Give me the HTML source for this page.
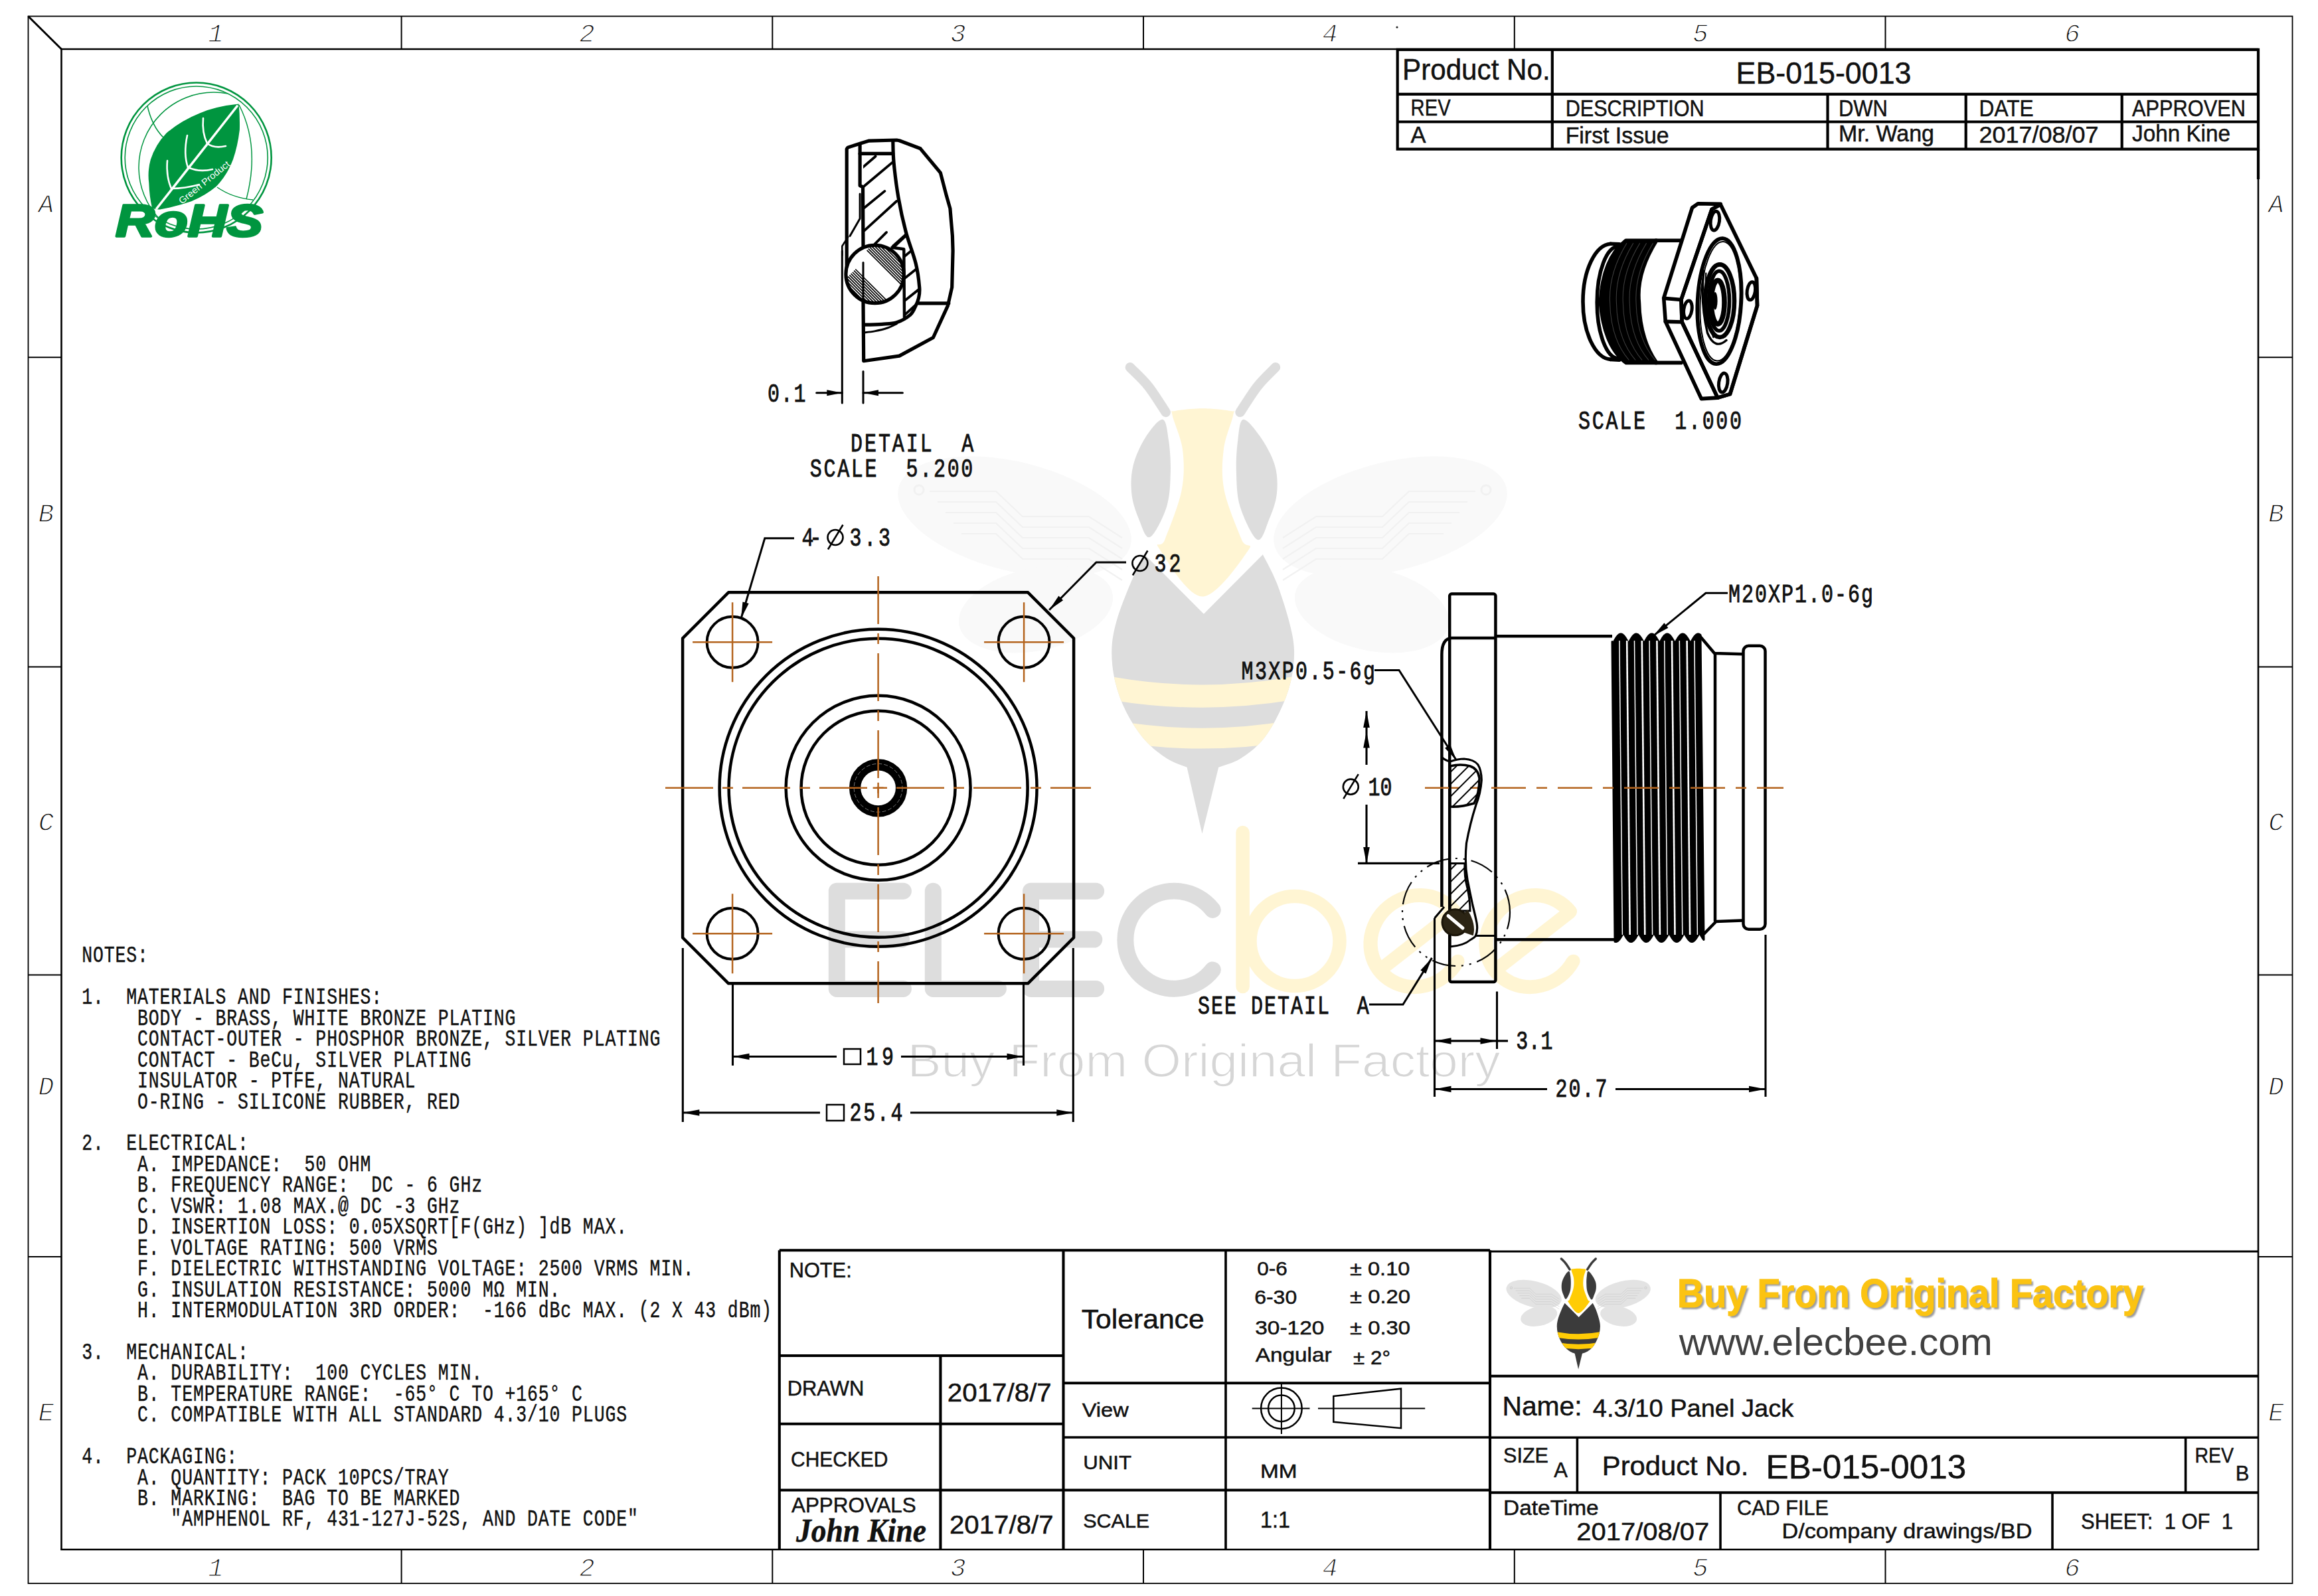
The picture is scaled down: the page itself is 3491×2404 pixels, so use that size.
<!DOCTYPE html>
<html><head><meta charset="utf-8"><title>EB-015-0013 4.3/10 Panel Jack</title>
<style>
html,body{margin:0;padding:0;background:#fff;}
body{width:3491px;height:2404px;overflow:hidden;font-family:"Liberation Sans",sans-serif;}
svg{display:block;}
</style></head><body>
<svg width="3491" height="2404" viewBox="0 0 3491 2404">
<g id="frame">
<rect x="42.5" y="24.5" width="3410.0" height="2360.5" stroke="#000" stroke-width="1.8" fill="none" />
<line x1="92.5" y1="74.0" x2="92.5" y2="2334.0" stroke="#000" stroke-width="2.6" />
<line x1="91.2" y1="74.0" x2="3401.0" y2="74.0" stroke="#000" stroke-width="2.6" />
<line x1="91.2" y1="2334.0" x2="3402.3" y2="2334.0" stroke="#000" stroke-width="2.6" />
<line x1="3401.0" y1="74.0" x2="3401.0" y2="2334.0" stroke="#000" stroke-width="2.6" />
<line x1="42.5" y1="24.5" x2="92.5" y2="74.0" stroke="#000" stroke-width="3.0" />
<line x1="604.6" y1="24.5" x2="604.6" y2="74.0" stroke="#000" stroke-width="2.0" />
<line x1="604.6" y1="2334.0" x2="604.6" y2="2385.0" stroke="#000" stroke-width="2.0" />
<line x1="1163.3" y1="24.5" x2="1163.3" y2="74.0" stroke="#000" stroke-width="2.0" />
<line x1="1163.3" y1="2334.0" x2="1163.3" y2="2385.0" stroke="#000" stroke-width="2.0" />
<line x1="1722.0" y1="24.5" x2="1722.0" y2="74.0" stroke="#000" stroke-width="2.0" />
<line x1="1722.0" y1="2334.0" x2="1722.0" y2="2385.0" stroke="#000" stroke-width="2.0" />
<line x1="2280.8" y1="24.5" x2="2280.8" y2="74.0" stroke="#000" stroke-width="2.0" />
<line x1="2280.8" y1="2334.0" x2="2280.8" y2="2385.0" stroke="#000" stroke-width="2.0" />
<line x1="2839.5" y1="24.5" x2="2839.5" y2="74.0" stroke="#000" stroke-width="2.0" />
<line x1="2839.5" y1="2334.0" x2="2839.5" y2="2385.0" stroke="#000" stroke-width="2.0" />
<line x1="42.5" y1="538.3" x2="92.5" y2="538.3" stroke="#000" stroke-width="2.0" />
<line x1="3401.0" y1="538.3" x2="3452.5" y2="538.3" stroke="#000" stroke-width="2.0" />
<line x1="42.5" y1="1004.5" x2="92.5" y2="1004.5" stroke="#000" stroke-width="2.0" />
<line x1="3401.0" y1="1004.5" x2="3452.5" y2="1004.5" stroke="#000" stroke-width="2.0" />
<line x1="42.5" y1="1468.4" x2="92.5" y2="1468.4" stroke="#000" stroke-width="2.0" />
<line x1="3401.0" y1="1468.4" x2="3452.5" y2="1468.4" stroke="#000" stroke-width="2.0" />
<line x1="42.5" y1="1893.0" x2="92.5" y2="1893.0" stroke="#000" stroke-width="2.0" />
<line x1="3401.0" y1="1893.0" x2="3452.5" y2="1893.0" stroke="#000" stroke-width="2.0" />
<text x="325.0" y="63.0" font-size="39.0" font-family='"Liberation Mono", monospace' font-weight="normal" font-style="italic" text-anchor="middle" fill="#111" stroke="#fff" stroke-width="1.3">1</text>
<text x="325.0" y="2374.0" font-size="39.0" font-family='"Liberation Mono", monospace' font-weight="normal" font-style="italic" text-anchor="middle" fill="#111" stroke="#fff" stroke-width="1.3">1</text>
<text x="884.0" y="63.0" font-size="39.0" font-family='"Liberation Mono", monospace' font-weight="normal" font-style="italic" text-anchor="middle" fill="#111" stroke="#fff" stroke-width="1.3">2</text>
<text x="884.0" y="2374.0" font-size="39.0" font-family='"Liberation Mono", monospace' font-weight="normal" font-style="italic" text-anchor="middle" fill="#111" stroke="#fff" stroke-width="1.3">2</text>
<text x="1443.0" y="63.0" font-size="39.0" font-family='"Liberation Mono", monospace' font-weight="normal" font-style="italic" text-anchor="middle" fill="#111" stroke="#fff" stroke-width="1.3">3</text>
<text x="1443.0" y="2374.0" font-size="39.0" font-family='"Liberation Mono", monospace' font-weight="normal" font-style="italic" text-anchor="middle" fill="#111" stroke="#fff" stroke-width="1.3">3</text>
<text x="2003.0" y="63.0" font-size="39.0" font-family='"Liberation Mono", monospace' font-weight="normal" font-style="italic" text-anchor="middle" fill="#111" stroke="#fff" stroke-width="1.3">4</text>
<text x="2003.0" y="2374.0" font-size="39.0" font-family='"Liberation Mono", monospace' font-weight="normal" font-style="italic" text-anchor="middle" fill="#111" stroke="#fff" stroke-width="1.3">4</text>
<text x="2561.0" y="63.0" font-size="39.0" font-family='"Liberation Mono", monospace' font-weight="normal" font-style="italic" text-anchor="middle" fill="#111" stroke="#fff" stroke-width="1.3">5</text>
<text x="2561.0" y="2374.0" font-size="39.0" font-family='"Liberation Mono", monospace' font-weight="normal" font-style="italic" text-anchor="middle" fill="#111" stroke="#fff" stroke-width="1.3">5</text>
<text x="3121.0" y="63.0" font-size="39.0" font-family='"Liberation Mono", monospace' font-weight="normal" font-style="italic" text-anchor="middle" fill="#111" stroke="#fff" stroke-width="1.3">6</text>
<text x="3121.0" y="2374.0" font-size="39.0" font-family='"Liberation Mono", monospace' font-weight="normal" font-style="italic" text-anchor="middle" fill="#111" stroke="#fff" stroke-width="1.3">6</text>
<text x="69.5" y="320.0" font-size="39.0" font-family='"Liberation Mono", monospace' font-weight="normal" font-style="italic" text-anchor="middle" fill="#111" stroke="#fff" stroke-width="1.3">A</text>
<text x="3428.0" y="320.0" font-size="39.0" font-family='"Liberation Mono", monospace' font-weight="normal" font-style="italic" text-anchor="middle" fill="#111" stroke="#fff" stroke-width="1.3">A</text>
<text x="69.5" y="785.6" font-size="39.0" font-family='"Liberation Mono", monospace' font-weight="normal" font-style="italic" text-anchor="middle" fill="#111" stroke="#fff" stroke-width="1.3">B</text>
<text x="3428.0" y="785.6" font-size="39.0" font-family='"Liberation Mono", monospace' font-weight="normal" font-style="italic" text-anchor="middle" fill="#111" stroke="#fff" stroke-width="1.3">B</text>
<text x="69.5" y="1251.0" font-size="39.0" font-family='"Liberation Mono", monospace' font-weight="normal" font-style="italic" text-anchor="middle" fill="#111" stroke="#fff" stroke-width="1.3">C</text>
<text x="3428.0" y="1251.0" font-size="39.0" font-family='"Liberation Mono", monospace' font-weight="normal" font-style="italic" text-anchor="middle" fill="#111" stroke="#fff" stroke-width="1.3">C</text>
<text x="69.5" y="1648.5" font-size="39.0" font-family='"Liberation Mono", monospace' font-weight="normal" font-style="italic" text-anchor="middle" fill="#111" stroke="#fff" stroke-width="1.3">D</text>
<text x="3428.0" y="1648.5" font-size="39.0" font-family='"Liberation Mono", monospace' font-weight="normal" font-style="italic" text-anchor="middle" fill="#111" stroke="#fff" stroke-width="1.3">D</text>
<text x="69.5" y="2139.5" font-size="39.0" font-family='"Liberation Mono", monospace' font-weight="normal" font-style="italic" text-anchor="middle" fill="#111" stroke="#fff" stroke-width="1.3">E</text>
<text x="3428.0" y="2139.5" font-size="39.0" font-family='"Liberation Mono", monospace' font-weight="normal" font-style="italic" text-anchor="middle" fill="#111" stroke="#fff" stroke-width="1.3">E</text>
</g>
<g id="revtable">
<rect x="2104.7" y="74.8" width="1296.3" height="149.8" stroke="#000" stroke-width="4.2" fill="none" />
<line x1="2104.7" y1="141.9" x2="3401.0" y2="141.9" stroke="#000" stroke-width="4.2" />
<line x1="2104.7" y1="183.5" x2="3401.0" y2="183.5" stroke="#000" stroke-width="4.2" />
<line x1="2337.8" y1="74.8" x2="2337.8" y2="224.6" stroke="#000" stroke-width="4.2" />
<line x1="2752.5" y1="141.9" x2="2752.5" y2="224.6" stroke="#000" stroke-width="4.2" />
<line x1="2960.7" y1="141.9" x2="2960.7" y2="224.6" stroke="#000" stroke-width="4.2" />
<line x1="3195.7" y1="141.9" x2="3195.7" y2="224.6" stroke="#000" stroke-width="4.2" />
<line x1="3401.0" y1="224.6" x2="3401.0" y2="270.0" stroke="#000" stroke-width="4.2" />
<text x="2112.0" y="120.0" font-size="44.0" font-family='"Liberation Sans", sans-serif' font-weight="normal" font-style="normal" text-anchor="start" fill="#111" textLength="222.7" lengthAdjust="spacingAndGlyphs"  stroke="#111" stroke-width="0.5">Product No.</text>
<text x="2614.5" y="126.4" font-size="47.0" font-family='"Liberation Sans", sans-serif' font-weight="normal" font-style="normal" text-anchor="start" fill="#111" textLength="264.0" lengthAdjust="spacingAndGlyphs"  stroke="#111" stroke-width="0.5">EB-015-0013</text>
<text x="2124.6" y="174.0" font-size="34.5" font-family='"Liberation Sans", sans-serif' font-weight="normal" font-style="normal" text-anchor="start" fill="#111" textLength="60.0" lengthAdjust="spacingAndGlyphs"  stroke="#111" stroke-width="0.5">REV</text>
<text x="2357.7" y="175.0" font-size="34.5" font-family='"Liberation Sans", sans-serif' font-weight="normal" font-style="normal" text-anchor="start" fill="#111" textLength="209.0" lengthAdjust="spacingAndGlyphs"  stroke="#111" stroke-width="0.5">DESCRIPTION</text>
<text x="2769.0" y="174.5" font-size="34.5" font-family='"Liberation Sans", sans-serif' font-weight="normal" font-style="normal" text-anchor="start" fill="#111" textLength="74.0" lengthAdjust="spacingAndGlyphs"  stroke="#111" stroke-width="0.5">DWN</text>
<text x="2980.6" y="174.5" font-size="34.5" font-family='"Liberation Sans", sans-serif' font-weight="normal" font-style="normal" text-anchor="start" fill="#111" textLength="82.0" lengthAdjust="spacingAndGlyphs"  stroke="#111" stroke-width="0.5">DATE</text>
<text x="3211.0" y="174.5" font-size="34.5" font-family='"Liberation Sans", sans-serif' font-weight="normal" font-style="normal" text-anchor="start" fill="#111" textLength="171.0" lengthAdjust="spacingAndGlyphs"  stroke="#111" stroke-width="0.5">APPROVEN</text>
<text x="2124.6" y="215.0" font-size="34.5" font-family='"Liberation Sans", sans-serif' font-weight="normal" font-style="normal" text-anchor="start" fill="#111"  stroke="#111" stroke-width="0.5">A</text>
<text x="2357.7" y="216.0" font-size="34.5" font-family='"Liberation Sans", sans-serif' font-weight="normal" font-style="normal" text-anchor="start" fill="#111" textLength="156.0" lengthAdjust="spacingAndGlyphs"  stroke="#111" stroke-width="0.5">First Issue</text>
<text x="2769.0" y="213.4" font-size="34.5" font-family='"Liberation Sans", sans-serif' font-weight="normal" font-style="normal" text-anchor="start" fill="#111" textLength="144.0" lengthAdjust="spacingAndGlyphs"  stroke="#111" stroke-width="0.5">Mr. Wang</text>
<text x="2980.6" y="215.0" font-size="34.5" font-family='"Liberation Sans", sans-serif' font-weight="normal" font-style="normal" text-anchor="start" fill="#111" textLength="180.0" lengthAdjust="spacingAndGlyphs"  stroke="#111" stroke-width="0.5">2017/08/07</text>
<text x="3211.0" y="213.4" font-size="34.5" font-family='"Liberation Sans", sans-serif' font-weight="normal" font-style="normal" text-anchor="start" fill="#111" textLength="148.0" lengthAdjust="spacingAndGlyphs"  stroke="#111" stroke-width="0.5">John Kine</text>
<circle id="tinydot" cx="2104" cy="41" r="1.6" fill="#222"/>
</g>
<g id="notes">
<text transform="translate(123.2,1449.3) scale(0.7600,1)" font-size="34.92" letter-spacing="1.12" font-family='"Liberation Mono", monospace' font-weight="normal" fill="#111" stroke="#111" stroke-width="0.45" xml:space="preserve">NOTES:</text>
<text transform="translate(123.2,1512.2) scale(0.7600,1)" font-size="34.92" letter-spacing="1.12" font-family='"Liberation Mono", monospace' font-weight="normal" fill="#111" stroke="#111" stroke-width="0.45" xml:space="preserve">1.  MATERIALS AND FINISHES:</text>
<text transform="translate(123.2,1543.6) scale(0.7600,1)" font-size="34.92" letter-spacing="1.12" font-family='"Liberation Mono", monospace' font-weight="normal" fill="#111" stroke="#111" stroke-width="0.45" xml:space="preserve">     BODY - BRASS, WHITE BRONZE PLATING</text>
<text transform="translate(123.2,1575.1) scale(0.7600,1)" font-size="34.92" letter-spacing="1.12" font-family='"Liberation Mono", monospace' font-weight="normal" fill="#111" stroke="#111" stroke-width="0.45" xml:space="preserve">     CONTACT-OUTER - PHOSPHOR BRONZE, SILVER PLATING</text>
<text transform="translate(123.2,1606.5) scale(0.7600,1)" font-size="34.92" letter-spacing="1.12" font-family='"Liberation Mono", monospace' font-weight="normal" fill="#111" stroke="#111" stroke-width="0.45" xml:space="preserve">     CONTACT - BeCu, SILVER PLATING</text>
<text transform="translate(123.2,1638.0) scale(0.7600,1)" font-size="34.92" letter-spacing="1.12" font-family='"Liberation Mono", monospace' font-weight="normal" fill="#111" stroke="#111" stroke-width="0.45" xml:space="preserve">     INSULATOR - PTFE, NATURAL</text>
<text transform="translate(123.2,1669.5) scale(0.7600,1)" font-size="34.92" letter-spacing="1.12" font-family='"Liberation Mono", monospace' font-weight="normal" fill="#111" stroke="#111" stroke-width="0.45" xml:space="preserve">     O-RING - SILICONE RUBBER, RED</text>
<text transform="translate(123.2,1732.3) scale(0.7600,1)" font-size="34.92" letter-spacing="1.12" font-family='"Liberation Mono", monospace' font-weight="normal" fill="#111" stroke="#111" stroke-width="0.45" xml:space="preserve">2.  ELECTRICAL:</text>
<text transform="translate(123.2,1763.8) scale(0.7600,1)" font-size="34.92" letter-spacing="1.12" font-family='"Liberation Mono", monospace' font-weight="normal" fill="#111" stroke="#111" stroke-width="0.45" xml:space="preserve">     A. IMPEDANCE:  50 OHM</text>
<text transform="translate(123.2,1795.2) scale(0.7600,1)" font-size="34.92" letter-spacing="1.12" font-family='"Liberation Mono", monospace' font-weight="normal" fill="#111" stroke="#111" stroke-width="0.45" xml:space="preserve">     B. FREQUENCY RANGE:  DC - 6 GHz</text>
<text transform="translate(123.2,1826.7) scale(0.7600,1)" font-size="34.92" letter-spacing="1.12" font-family='"Liberation Mono", monospace' font-weight="normal" fill="#111" stroke="#111" stroke-width="0.45" xml:space="preserve">     C. VSWR: 1.08 MAX.@ DC -3 GHz</text>
<text transform="translate(123.2,1858.1) scale(0.7600,1)" font-size="34.92" letter-spacing="1.12" font-family='"Liberation Mono", monospace' font-weight="normal" fill="#111" stroke="#111" stroke-width="0.45" xml:space="preserve">     D. INSERTION LOSS: 0.05XSQRT[F(GHz) ]dB MAX.</text>
<text transform="translate(123.2,1889.6) scale(0.7600,1)" font-size="34.92" letter-spacing="1.12" font-family='"Liberation Mono", monospace' font-weight="normal" fill="#111" stroke="#111" stroke-width="0.45" xml:space="preserve">     E. VOLTAGE RATING: 500 VRMS</text>
<text transform="translate(123.2,1921.0) scale(0.7600,1)" font-size="34.92" letter-spacing="1.12" font-family='"Liberation Mono", monospace' font-weight="normal" fill="#111" stroke="#111" stroke-width="0.45" xml:space="preserve">     F. DIELECTRIC WITHSTANDING VOLTAGE: 2500 VRMS MIN.</text>
<text transform="translate(123.2,1952.5) scale(0.7600,1)" font-size="34.92" letter-spacing="1.12" font-family='"Liberation Mono", monospace' font-weight="normal" fill="#111" stroke="#111" stroke-width="0.45" xml:space="preserve">     G. INSULATION RESISTANCE: 5000 MΩ MIN.</text>
<text transform="translate(123.2,1983.9) scale(0.7600,1)" font-size="34.92" letter-spacing="1.12" font-family='"Liberation Mono", monospace' font-weight="normal" fill="#111" stroke="#111" stroke-width="0.45" xml:space="preserve">     H. INTERMODULATION 3RD ORDER:  -166 dBc MAX. (2 X 43 dBm)</text>
<text transform="translate(123.2,2046.8) scale(0.7600,1)" font-size="34.92" letter-spacing="1.12" font-family='"Liberation Mono", monospace' font-weight="normal" fill="#111" stroke="#111" stroke-width="0.45" xml:space="preserve">3.  MECHANICAL:</text>
<text transform="translate(123.2,2078.3) scale(0.7600,1)" font-size="34.92" letter-spacing="1.12" font-family='"Liberation Mono", monospace' font-weight="normal" fill="#111" stroke="#111" stroke-width="0.45" xml:space="preserve">     A. DURABILITY:  100 CYCLES MIN.</text>
<text transform="translate(123.2,2109.8) scale(0.7600,1)" font-size="34.92" letter-spacing="1.12" font-family='"Liberation Mono", monospace' font-weight="normal" fill="#111" stroke="#111" stroke-width="0.45" xml:space="preserve">     B. TEMPERATURE RANGE:  -65° C TO +165° C</text>
<text transform="translate(123.2,2141.2) scale(0.7600,1)" font-size="34.92" letter-spacing="1.12" font-family='"Liberation Mono", monospace' font-weight="normal" fill="#111" stroke="#111" stroke-width="0.45" xml:space="preserve">     C. COMPATIBLE WITH ALL STANDARD 4.3/10 PLUGS</text>
<text transform="translate(123.2,2204.1) scale(0.7600,1)" font-size="34.92" letter-spacing="1.12" font-family='"Liberation Mono", monospace' font-weight="normal" fill="#111" stroke="#111" stroke-width="0.45" xml:space="preserve">4.  PACKAGING:</text>
<text transform="translate(123.2,2235.6) scale(0.7600,1)" font-size="34.92" letter-spacing="1.12" font-family='"Liberation Mono", monospace' font-weight="normal" fill="#111" stroke="#111" stroke-width="0.45" xml:space="preserve">     A. QUANTITY: PACK 10PCS/TRAY</text>
<text transform="translate(123.2,2267.0) scale(0.7600,1)" font-size="34.92" letter-spacing="1.12" font-family='"Liberation Mono", monospace' font-weight="normal" fill="#111" stroke="#111" stroke-width="0.45" xml:space="preserve">     B. MARKING:  BAG TO BE MARKED</text>
<text transform="translate(123.2,2298.4) scale(0.7600,1)" font-size="34.92" letter-spacing="1.12" font-family='"Liberation Mono", monospace' font-weight="normal" fill="#111" stroke="#111" stroke-width="0.45" xml:space="preserve">        "AMPHENOL RF, 431-127J-52S, AND DATE CODE"</text>
</g>
<g id="watermark">
<ellipse cx="1528" cy="778" rx="180" ry="82" fill="#f9f9f9" transform="rotate(14 1528 778)"/>
<ellipse cx="1560" cy="918" rx="118" ry="62" fill="#f9f9f9" transform="rotate(-12 1560 918)"/>
<ellipse cx="2094" cy="778" rx="180" ry="82" fill="#f9f9f9" transform="rotate(-14 2094 778)"/>
<ellipse cx="2066" cy="918" rx="118" ry="62" fill="#f9f9f9" transform="rotate(12 2066 918)"/>
<path d="M1400.0,740.0 L1500.0,740.0 L1540.0,778.0 L1640.0,778.0 L1690.0,810.0" stroke="#f1f1f1" stroke-width="2.2" fill="none" />
<path d="M1412.0,756.0 L1500.0,756.0 L1540.0,794.0 L1640.0,794.0 L1690.0,826.0" stroke="#f1f1f1" stroke-width="2.2" fill="none" />
<path d="M1424.0,772.0 L1500.0,772.0 L1540.0,810.0 L1640.0,810.0 L1690.0,842.0" stroke="#f1f1f1" stroke-width="2.2" fill="none" />
<path d="M1436.0,788.0 L1500.0,788.0 L1540.0,826.0 L1640.0,826.0 L1690.0,858.0" stroke="#f1f1f1" stroke-width="2.2" fill="none" />
<path d="M1448.0,804.0 L1500.0,804.0 L1540.0,842.0 L1640.0,842.0 L1690.0,874.0" stroke="#f1f1f1" stroke-width="2.2" fill="none" />
<circle cx="1384.0" cy="738" r="7" fill="none" stroke="#f1f1f1" stroke-width="3"/>
<path d="M2222.0,740.0 L2122.0,740.0 L2082.0,778.0 L1982.0,778.0 L1932.0,810.0" stroke="#f1f1f1" stroke-width="2.2" fill="none" />
<path d="M2210.0,756.0 L2122.0,756.0 L2082.0,794.0 L1982.0,794.0 L1932.0,826.0" stroke="#f1f1f1" stroke-width="2.2" fill="none" />
<path d="M2198.0,772.0 L2122.0,772.0 L2082.0,810.0 L1982.0,810.0 L1932.0,842.0" stroke="#f1f1f1" stroke-width="2.2" fill="none" />
<path d="M2186.0,788.0 L2122.0,788.0 L2082.0,826.0 L1982.0,826.0 L1932.0,858.0" stroke="#f1f1f1" stroke-width="2.2" fill="none" />
<path d="M2174.0,804.0 L2122.0,804.0 L2082.0,842.0 L1982.0,842.0 L1932.0,874.0" stroke="#f1f1f1" stroke-width="2.2" fill="none" />
<circle cx="2238.0" cy="738" r="7" fill="none" stroke="#f1f1f1" stroke-width="3"/>
<path d="M1701.9,553.3 C1706.5,558.1 1720.6,570.6 1729.5,581.9 C1738.5,593.2 1751.3,614.4 1755.7,621.0 " stroke="#dddddd" stroke-width="14.5" fill="none" stroke-linecap="round"/>
<path d="M1921.0,553.3 C1916.4,558.1 1902.7,570.6 1893.8,581.9 C1884.9,593.2 1872.0,614.4 1867.6,621.0 " stroke="#dddddd" stroke-width="14.5" fill="none" stroke-linecap="round"/>
<path d="M1770.0,619.0 C1777.5,617.3 1796.6,615.2 1810.5,615.2 C1824.4,615.2 1845.6,617.3 1853.3,619.0 C1861.1,620.8 1858.9,616.0 1857.1,625.7 C1855.4,635.4 1845.1,658.3 1842.9,677.1 C1840.6,696.0 1839.3,716.4 1843.8,739.0 C1848.3,761.7 1864.0,797.8 1870.0,812.9 C1876.0,827.9 1889.4,815.2 1879.5,829.5 C1869.6,843.8 1832.7,899.0 1810.5,898.6 C1788.3,898.2 1755.6,841.4 1746.2,827.1 C1736.8,812.9 1748.7,827.5 1754.3,812.9 C1759.8,798.2 1775.1,761.7 1779.5,739.0 C1784.0,716.4 1783.3,696.0 1781.0,677.1 C1778.7,658.3 1767.5,635.4 1765.7,625.7 C1763.9,616.0 1762.5,620.8 1770.0,619.0 Z" fill="#fff5d3"/>
<path d="M1751.0,631.9 C1745.2,631.1 1733.1,646.6 1725.7,658.1 C1718.3,669.6 1710.2,686.7 1706.7,701.0 C1703.1,715.2 1702.9,730.3 1704.3,743.8 C1705.7,757.3 1710.6,771.0 1715.2,781.9 C1719.8,792.8 1724.9,812.2 1731.9,809.0 C1738.9,805.9 1752.0,779.3 1757.1,762.9 C1762.3,746.4 1762.4,727.1 1762.9,710.5 C1763.3,693.8 1762.0,676.0 1760.0,662.9 C1758.0,649.8 1756.7,632.7 1751.0,631.9 Z" fill="#dddddd"/>
<path d="M1872.4,631.9 C1878.0,631.1 1890.2,646.6 1898.1,658.1 C1906.0,669.6 1915.9,686.7 1920.0,701.0 C1924.1,715.2 1924.3,730.3 1922.9,743.8 C1921.4,757.3 1916.3,770.4 1911.4,781.9 C1906.6,793.4 1901.1,816.0 1893.8,812.9 C1886.5,809.7 1872.9,779.9 1867.6,762.9 C1862.3,745.8 1862.5,727.1 1861.9,710.5 C1861.3,693.8 1862.5,676.0 1864.3,662.9 C1866.0,649.8 1866.7,632.7 1872.4,631.9 Z" fill="#dddddd"/>
<clipPath id="clipBee0"><path d="M1812.9,924.8 L1723.8,835.2 L1723.8,835.2 C1720.4,842.2 1710.3,860.6 1703.3,877.1 C1696.3,893.7 1686.7,917.2 1681.9,934.3 C1677.1,951.3 1674.7,964.0 1674.3,979.5 C1673.9,995.0 1675.9,1011.7 1679.5,1027.1 C1683.2,1042.6 1688.7,1057.7 1696.2,1072.4 C1703.7,1087.1 1714.4,1103.5 1724.8,1115.2 C1735.1,1127.0 1747.6,1136.1 1758.1,1142.9 C1768.6,1149.6 1782.7,1153.6 1787.6,1155.7 L1810.5,1255.7 L1835.2,1155.7 L1835.2,1155.7 C1840.6,1153.6 1856.7,1149.6 1867.6,1142.9 C1878.6,1136.1 1891.0,1127.0 1901.0,1115.2 C1910.9,1103.5 1920.0,1087.1 1927.1,1072.4 C1934.3,1057.7 1940.2,1042.6 1943.8,1027.1 C1947.5,1011.7 1949.5,995.0 1949.0,979.5 C1948.6,964.0 1945.4,951.3 1941.0,934.3 C1936.5,917.2 1928.9,893.7 1922.4,877.1 C1915.9,860.6 1905.3,842.2 1901.9,835.2 Z"/></clipPath>
<path d="M1812.9,924.8 L1723.8,835.2 L1723.8,835.2 C1720.4,842.2 1710.3,860.6 1703.3,877.1 C1696.3,893.7 1686.7,917.2 1681.9,934.3 C1677.1,951.3 1674.7,964.0 1674.3,979.5 C1673.9,995.0 1675.9,1011.7 1679.5,1027.1 C1683.2,1042.6 1688.7,1057.7 1696.2,1072.4 C1703.7,1087.1 1714.4,1103.5 1724.8,1115.2 C1735.1,1127.0 1747.6,1136.1 1758.1,1142.9 C1768.6,1149.6 1782.7,1153.6 1787.6,1155.7 L1810.5,1255.7 L1835.2,1155.7 L1835.2,1155.7 C1840.6,1153.6 1856.7,1149.6 1867.6,1142.9 C1878.6,1136.1 1891.0,1127.0 1901.0,1115.2 C1910.9,1103.5 1920.0,1087.1 1927.1,1072.4 C1934.3,1057.7 1940.2,1042.6 1943.8,1027.1 C1947.5,1011.7 1949.5,995.0 1949.0,979.5 C1948.6,964.0 1945.4,951.3 1941.0,934.3 C1936.5,917.2 1928.9,893.7 1922.4,877.1 C1915.9,860.6 1905.3,842.2 1901.9,835.2 Z" fill="#dddddd"/>
<g clip-path="url(#clipBee0)">
<path d="M1667.6,1018.1 Q1810.5,1044.8 1953.3,1018.1 L1953.3,1053.3 Q1810.5,1078.1 1667.6,1053.3 Z" fill="#fff5d3"/>
<path d="M1667.6,1083.3 Q1810.5,1110.0 1953.3,1083.3 L1953.3,1115.2 Q1810.5,1140.0 1667.6,1115.2 Z" fill="#fff5d3"/>
</g>
<g fill="none" stroke="#dddddd" stroke-width="25" stroke-linecap="round" stroke-linejoin="round">
<path d="M1360.4,1342.2 L1260.3,1342.2 L1260.3,1489.4 L1360.4,1489.4"/>
<path d="M1260.3,1415.1 L1357.6,1415.1"/>
<path d="M1405.3,1342.2 L1405.3,1489.4 L1503.4,1489.4"/>
<path d="M1650.6,1342.2 L1552.5,1342.2 L1552.5,1489.4 L1650.6,1489.4"/>
<path d="M1552.5,1415.1 L1647.8,1415.1"/>
<path d="M1826.3,1370.4 A73.5,73.5 0 1 0 1826.3,1460.9"/>
</g>
<g fill="none" stroke="#fff5d3" stroke-width="20.5" stroke-linecap="round" stroke-linejoin="round">
<path d="M1871.6,1254 L1871.6,1486"/>
<circle cx="1950" cy="1417.6" r="67.5"/>
<g transform="translate(2134,1417.6) rotate(-38) scale(1.06,1)">
<path d="M-67.5,0 L67.5,0 A67.5,67.5 0 1 0 27.5,61.7"/>
</g>
<g transform="translate(2308,1417.6) rotate(-38) scale(1.06,1)">
<path d="M-67.5,0 L67.5,0 A67.5,67.5 0 1 0 27.5,61.7"/>
</g>
</g>
<text x="1366.5" y="1622.0" font-size="71.0" font-family='"Liberation Sans", sans-serif' font-weight="normal" font-style="normal" text-anchor="start" fill="#d6d6d6" textLength="893.0" lengthAdjust="spacingAndGlyphs" stroke="#fff" stroke-width="1.6">Buy From Original Factory</text>
</g>
<g id="front">
<path d="M1097.1,892.3 L1548.1,892.3 L1617.1,961.3 L1617.1,1412.3 L1548.1,1481.3 L1097.1,1481.3 L1028.1,1412.3 L1028.1,961.3 Z" stroke="#000" stroke-width="4.5" fill="none" stroke-linejoin="round"/>
<circle cx="1322.6" cy="1186.8" r="239.0" stroke="#000" stroke-width="4.5" fill="none" />
<circle cx="1322.6" cy="1186.8" r="225.0" stroke="#000" stroke-width="4.5" fill="none" />
<circle cx="1322.6" cy="1186.8" r="139.0" stroke="#000" stroke-width="4.5" fill="none" />
<circle cx="1322.6" cy="1186.8" r="116.0" stroke="#000" stroke-width="4.5" fill="none" />
<circle cx="1322.6" cy="1186.8" r="35.0" stroke="#000" stroke-width="17.3" fill="none" />
<circle cx="1322.6" cy="1186.8" r="36.4" stroke="#777" stroke-width="1.0" fill="none" stroke-dasharray="6 3"/>
<circle cx="1103.1" cy="967.3" r="38.5" stroke="#000" stroke-width="4.0" fill="none" />
<line x1="1043.1" y1="967.3" x2="1163.1" y2="967.3" stroke="#b4641e" stroke-width="2.5" />
<line x1="1103.1" y1="907.3" x2="1103.1" y2="1027.3" stroke="#b4641e" stroke-width="2.5" />
<circle cx="1103.1" cy="1406.3" r="38.5" stroke="#000" stroke-width="4.0" fill="none" />
<line x1="1043.1" y1="1406.3" x2="1163.1" y2="1406.3" stroke="#b4641e" stroke-width="2.5" />
<line x1="1103.1" y1="1346.3" x2="1103.1" y2="1466.3" stroke="#b4641e" stroke-width="2.5" />
<circle cx="1542.1" cy="967.3" r="38.5" stroke="#000" stroke-width="4.0" fill="none" />
<line x1="1482.1" y1="967.3" x2="1602.1" y2="967.3" stroke="#b4641e" stroke-width="2.5" />
<line x1="1542.1" y1="907.3" x2="1542.1" y2="1027.3" stroke="#b4641e" stroke-width="2.5" />
<circle cx="1542.1" cy="1406.3" r="38.5" stroke="#000" stroke-width="4.0" fill="none" />
<line x1="1482.1" y1="1406.3" x2="1602.1" y2="1406.3" stroke="#b4641e" stroke-width="2.5" />
<line x1="1542.1" y1="1346.3" x2="1542.1" y2="1466.3" stroke="#b4641e" stroke-width="2.5" />
<line x1="1002.0" y1="1186.8" x2="1643.0" y2="1186.8" stroke="#b4641e" stroke-width="2.5" stroke-dasharray="72 14 16 14" stroke-dashoffset="-0"/>
<line x1="1322.6" y1="868.0" x2="1322.6" y2="1511.0" stroke="#b4641e" stroke-width="2.5" stroke-dasharray="72 14 16 14"/>
<line x1="1314.6" y1="1186.8" x2="1330.6" y2="1186.8" stroke="#b4641e" stroke-width="2.5" />
<line x1="1322.6" y1="1178.8" x2="1322.6" y2="1194.8" stroke="#b4641e" stroke-width="2.5" />
<line x1="1103.5" y1="1482.0" x2="1103.5" y2="1605.0" stroke="#000" stroke-width="3.1" />
<line x1="1541.5" y1="1482.0" x2="1541.5" y2="1605.0" stroke="#000" stroke-width="3.1" />
<line x1="1103.5" y1="1591.5" x2="1260.0" y2="1591.5" stroke="#000" stroke-width="3.1" />
<line x1="1357.0" y1="1591.5" x2="1541.5" y2="1591.5" stroke="#000" stroke-width="3.1" />
<polygon points="1103.5,1591.5 1128.5,1586.8 1128.5,1596.2" fill="#000"/>
<polygon points="1541.5,1591.5 1516.5,1596.2 1516.5,1586.8" fill="#000"/>
<rect x="1271.0" y="1580.0" width="25.0" height="23.0" stroke="#000" stroke-width="2.5" fill="none" />
<text transform="translate(1304.6,1603.5) scale(0.7600,1)" font-size="39.47" letter-spacing="6.98" font-family='"Liberation Mono", monospace' font-weight="normal" fill="#111" stroke="#111" stroke-width="0.90" xml:space="preserve">19</text>
<line x1="1028.3" y1="1428.0" x2="1028.3" y2="1690.0" stroke="#000" stroke-width="3.1" />
<line x1="1616.3" y1="1428.0" x2="1616.3" y2="1690.0" stroke="#000" stroke-width="3.1" />
<line x1="1028.3" y1="1676.0" x2="1235.0" y2="1676.0" stroke="#000" stroke-width="3.1" />
<line x1="1371.0" y1="1676.0" x2="1616.3" y2="1676.0" stroke="#000" stroke-width="3.1" />
<polygon points="1028.3,1676.0 1053.3,1671.2 1053.3,1680.8" fill="#000"/>
<polygon points="1616.3,1676.0 1591.3,1680.8 1591.3,1671.2" fill="#000"/>
<rect x="1245.0" y="1664.0" width="26.0" height="24.0" stroke="#000" stroke-width="2.5" fill="none" />
<text transform="translate(1279.6,1688.0) scale(0.7600,1)" font-size="39.47" letter-spacing="3.42" font-family='"Liberation Mono", monospace' font-weight="normal" fill="#111" stroke="#111" stroke-width="0.90" xml:space="preserve">25.4</text>
<path d="M1196.0,810.8 L1151.8,810.8 L1116.0,931.7" stroke="#000" stroke-width="3.0" fill="none" />
<polygon points="1116.0,931.7 1118.5,906.4 1127.7,909.1" fill="#000"/>
<text transform="translate(1207.6,822.0) scale(0.7600,1)" font-size="39.47" letter-spacing="-8.16" font-family='"Liberation Mono", monospace' font-weight="normal" fill="#111" stroke="#111" stroke-width="0.90" xml:space="preserve">4-</text>
<circle cx="1258.0" cy="809.5" r="11.5" stroke="#000" stroke-width="2.6" fill="none" />
<line x1="1247.0" y1="827.5" x2="1269.5" y2="790.5" stroke="#000" stroke-width="2.6" />
<text transform="translate(1279.6,822.0) scale(0.7600,1)" font-size="39.47" letter-spacing="4.80" font-family='"Liberation Mono", monospace' font-weight="normal" fill="#111" stroke="#111" stroke-width="0.90" xml:space="preserve">3.3</text>
<path d="M1696.0,846.9 L1651.0,846.9 L1580.2,918.7" stroke="#000" stroke-width="3.0" fill="none" />
<polygon points="1580.2,918.7 1594.4,897.6 1601.1,904.2" fill="#000"/>
<circle cx="1716.9" cy="848.5" r="11.5" stroke="#000" stroke-width="2.6" fill="none" />
<line x1="1705.9" y1="866.5" x2="1728.4" y2="829.5" stroke="#000" stroke-width="2.6" />
<text transform="translate(1738.6,861.0) scale(0.7600,1)" font-size="39.47" letter-spacing="5.00" font-family='"Liberation Mono", monospace' font-weight="normal" fill="#111" stroke="#111" stroke-width="0.90" xml:space="preserve">32</text>
</g>
<g id="side">
<rect x="2183.2" y="894.6" width="69.2" height="584.4" stroke="#000" stroke-width="4.5" fill="none" rx="3"/>
<line x1="2252.4" y1="958.3" x2="2428.0" y2="958.3" stroke="#000" stroke-width="4.5" />
<line x1="2252.4" y1="1415.2" x2="2432.0" y2="1415.2" stroke="#000" stroke-width="4.5" />
<path d="M2252,961 L2186,961 Q2171.4,962 2171.4,986 L2171.4,1366" stroke="#000" stroke-width="4.5" fill="none" />
<polygon points="2428.0,966.5 2429.0,968.3 2430.0,967.8 2431.0,965.9 2432.0,964.1 2433.0,962.4 2434.0,960.8 2435.0,959.3 2436.0,958.1 2437.0,957.0 2438.0,956.1 2439.0,955.5 2440.0,955.1 2441.0,955.0 2442.0,955.1 2443.0,955.5 2444.0,956.1 2445.0,957.0 2446.0,958.1 2447.0,959.3 2448.0,960.8 2449.0,962.4 2450.0,964.1 2451.0,965.9 2452.0,967.8 2453.0,968.3 2454.0,966.5 2455.0,964.6 2456.0,962.9 2457.0,961.3 2458.0,959.8 2459.0,958.4 2460.0,957.3 2461.0,956.4 2462.0,955.7 2463.0,955.2 2464.0,955.0 2465.0,955.1 2466.0,955.4 2467.0,955.9 2468.0,956.7 2469.0,957.7 2470.0,958.9 2471.0,960.3 2472.0,961.9 2473.0,963.6 2474.0,965.4 2475.0,967.2 2476.0,968.9 2477.0,967.0 2478.0,965.2 2479.0,963.4 2480.0,961.7 2481.0,960.2 2482.0,958.8 2483.0,957.6 2484.0,956.6 2485.0,955.9 2486.0,955.3 2487.0,955.0 2488.0,955.0 2489.0,955.2 2490.0,955.7 2491.0,956.4 2492.0,957.4 2493.0,958.5 2494.0,959.9 2495.0,961.4 2496.0,963.1 2497.0,964.8 2498.0,966.7 2499.0,968.5 2500.0,967.6 2501.0,965.7 2502.0,963.9 2503.0,962.2 2504.0,960.6 2505.0,959.2 2506.0,957.9 2507.0,956.9 2508.0,956.1 2509.0,955.5 2510.0,955.1 2511.0,955.0 2512.0,955.2 2513.0,955.6 2514.0,956.2 2515.0,957.1 2516.0,958.2 2517.0,959.5 2518.0,960.9 2519.0,962.6 2520.0,964.3 2521.0,966.1 2522.0,968.0 2523.0,968.2 2524.0,966.3 2525.0,964.5 2526.0,962.7 2527.0,961.1 2528.0,959.6 2529.0,958.3 2530.0,957.2 2531.0,956.3 2532.0,955.6 2533.0,955.2 2534.0,955.0 2535.0,955.1 2536.0,955.4 2537.0,956.0 2538.0,956.8 2539.0,957.8 2540.0,959.1 2541.0,960.5 2542.0,962.1 2543.0,963.8 2544.0,965.5 2545.0,967.4 2546.0,968.7 2547.0,966.8 2548.0,965.0 2549.0,963.2 2550.0,961.6 2551.0,960.0 2552.0,958.7 2553.0,957.5 2554.0,956.5 2555.0,955.8 2556.0,955.3 2557.0,955.0 2558.0,955.0 2559.0,955.3 2560.0,955.8 2561.0,956.5 2566.0,1415.6 2565.0,1414.3 2564.0,1412.9 2563.0,1411.3 2562.0,1409.6 2561.0,1407.8 2560.0,1406.0 2559.0,1405.8 2558.0,1407.7 2557.0,1409.5 2556.0,1411.2 2555.0,1412.7 2554.0,1414.2 2553.0,1415.4 2552.0,1416.5 2551.0,1417.4 2550.0,1418.0 2549.0,1418.4 2548.0,1418.5 2547.0,1418.4 2546.0,1418.0 2545.0,1417.4 2544.0,1416.5 2543.0,1415.4 2542.0,1414.2 2541.0,1412.7 2540.0,1411.2 2539.0,1409.5 2538.0,1407.7 2537.0,1405.8 2536.0,1406.0 2535.0,1407.8 2534.0,1409.6 2533.0,1411.3 2532.0,1412.9 2531.0,1414.3 2530.0,1415.6 2529.0,1416.6 2528.0,1417.4 2527.0,1418.0 2526.0,1418.4 2525.0,1418.5 2524.0,1418.3 2523.0,1417.9 2522.0,1417.3 2521.0,1416.4 2520.0,1415.3 2519.0,1414.0 2518.0,1412.6 2517.0,1411.0 2516.0,1409.3 2515.0,1407.5 2514.0,1405.6 2513.0,1406.2 2512.0,1408.0 2511.0,1409.8 2510.0,1411.5 2509.0,1413.0 2508.0,1414.4 2507.0,1415.7 2506.0,1416.7 2505.0,1417.5 2504.0,1418.1 2503.0,1418.4 2502.0,1418.5 2501.0,1418.3 2500.0,1417.9 2499.0,1417.2 2498.0,1416.3 2497.0,1415.2 2496.0,1413.9 2495.0,1412.4 2494.0,1410.8 2493.0,1409.1 2492.0,1407.3 2491.0,1405.5 2490.0,1406.4 2489.0,1408.2 2488.0,1410.0 2487.0,1411.6 2486.0,1413.2 2485.0,1414.6 2484.0,1415.8 2483.0,1416.8 2482.0,1417.6 2481.0,1418.1 2480.0,1418.4 2479.0,1418.5 2478.0,1418.3 2477.0,1417.8 2476.0,1417.1 2475.0,1416.2 2474.0,1415.1 2473.0,1413.8 2472.0,1412.3 2471.0,1410.7 2470.0,1408.9 2469.0,1407.1 2468.0,1405.3 2467.0,1406.6 2466.0,1408.4 2465.0,1410.1 2464.0,1411.8 2463.0,1413.3 2462.0,1414.7 2461.0,1415.9 2460.0,1416.9 2459.0,1417.7 2458.0,1418.2 2457.0,1418.5 2456.0,1418.5 2455.0,1418.3 2454.0,1417.8 2453.0,1417.1 2452.0,1416.1 2451.0,1415.0 2450.0,1413.6 2449.0,1412.1 2448.0,1410.5 2447.0,1408.7 2446.0,1406.9 2445.0,1405.1 2444.0,1406.8 2443.0,1408.6 2442.0,1410.3 2441.0,1412.0 2440.0,1413.5 2439.0,1414.8 2438.0,1416.0 2437.0,1417.0 2436.0,1417.7 2435.0,1418.2 2434.0,1418.5 2433.0,1418.5 2432.0,1418.2" fill="#000" stroke="#000" stroke-width="3" stroke-linejoin="round"/>
<line x1="2438.9" y1="965.0" x2="2443.4" y2="1408.0" stroke="#fff" stroke-width="1.5" />
<line x1="2450.2" y1="965.0" x2="2454.7" y2="1408.0" stroke="#fff" stroke-width="2.6" />
<line x1="2461.5" y1="965.0" x2="2466.0" y2="1408.0" stroke="#fff" stroke-width="1.5" />
<line x1="2472.8" y1="965.0" x2="2477.3" y2="1408.0" stroke="#fff" stroke-width="2.6" />
<line x1="2484.1" y1="965.0" x2="2488.6" y2="1408.0" stroke="#fff" stroke-width="1.5" />
<line x1="2495.4" y1="965.0" x2="2499.9" y2="1408.0" stroke="#fff" stroke-width="2.6" />
<line x1="2506.7" y1="965.0" x2="2511.2" y2="1408.0" stroke="#fff" stroke-width="1.5" />
<line x1="2518.0" y1="965.0" x2="2522.5" y2="1408.0" stroke="#fff" stroke-width="2.6" />
<line x1="2529.3" y1="965.0" x2="2533.8" y2="1408.0" stroke="#fff" stroke-width="1.5" />
<line x1="2540.6" y1="965.0" x2="2545.1" y2="1408.0" stroke="#fff" stroke-width="2.6" />
<line x1="2551.9" y1="965.0" x2="2556.4" y2="1408.0" stroke="#fff" stroke-width="1.5" />
<path d="M2560,958 L2582,984 L2624,985.3" stroke="#000" stroke-width="4.5" fill="none" stroke-linejoin="round"/>
<path d="M2566,1407 L2584.5,1388 L2624,1386.6" stroke="#000" stroke-width="4.5" fill="none" stroke-linejoin="round"/>
<line x1="2583.0" y1="984.0" x2="2583.0" y2="1388.0" stroke="#000" stroke-width="4.5" />
<rect x="2625.5" y="972.8" width="33.0" height="427.0" stroke="#000" stroke-width="4.5" fill="none" rx="8"/>
<line x1="2146.0" y1="1186.8" x2="2686.0" y2="1186.8" stroke="#b4641e" stroke-width="2.5" stroke-dasharray="52 16 16 16"/>
<defs><pattern id="h45" width="13" height="13" patternUnits="userSpaceOnUse" patternTransform="rotate(-45)"><line x1="0" y1="0" x2="13" y2="0" stroke="#000" stroke-width="4"/></pattern><pattern id="h45f" width="5" height="5" patternUnits="userSpaceOnUse" patternTransform="rotate(45)"><line x1="0" y1="0" x2="5" y2="0" stroke="#000" stroke-width="3.6"/></pattern></defs>
<path d="M2171.4,1140.7 Q2178,1146 2184,1147 Q2196,1143 2205,1143 Q2220,1144 2226,1152 Q2231,1160 2231.3,1175 Q2230,1195 2222.8,1212.7 Q2214,1240 2208.5,1270 Q2205.5,1300 2210,1325 Q2214,1345 2217.8,1363 Q2222,1380 2224,1390 Q2226,1402 2222,1410.7" stroke="#000" stroke-width="3.2" fill="none" />
<path d="M2184,1154 Q2200,1150 2214,1154 Q2226,1158 2228,1172 Q2228,1195 2220,1210 Q2200,1216 2184,1215 Z" stroke="#000" stroke-width="3.5" fill="url(#h45)" />
<path d="M2184,1300.4 L2206,1300.4 Q2205,1320 2210,1338 Q2214,1356 2214,1372 L2184,1372 Z" stroke="#000" stroke-width="3.0" fill="url(#h45)" />
<line x1="2045.0" y1="1300.4" x2="2168.0" y2="1300.4" stroke="#000" stroke-width="3.1" />
<line x1="2160.5" y1="1383.0" x2="2175.0" y2="1366.0" stroke="#000" stroke-width="3.1" />
<circle cx="2191.5" cy="1389.3" r="19.5" stroke="#1a1408" stroke-width="3.0" fill="#2b2414" />
<line x1="2181.0" y1="1379.5" x2="2203.0" y2="1398.0" stroke="#fff" stroke-width="5.0" stroke-linecap="round"/>
<path d="M2210,1372 Q2222,1392 2218,1408 L2206,1404 Q2212,1388 2206,1376 Z" stroke="#2b2414" stroke-width="2.0" fill="#2b2414" />
<path d="M2184,1408 L2184,1426 Q2205,1424 2214,1416 Q2221,1412 2222.8,1409.4 L2252,1409.4" stroke="#000" stroke-width="3.0" fill="none" />
<circle cx="2193.0" cy="1374.0" r="81.0" stroke="#000" stroke-width="2.2" fill="none" stroke-dasharray="36 9 3 9 3 9" stroke-dashoffset="10"/>
<path d="M2062.0,1513.0 L2113.0,1513.0 L2156.5,1442.9" stroke="#000" stroke-width="3.0" fill="none" />
<polygon points="2156.5,1442.9 2147.4,1466.6 2139.3,1461.6" fill="#000"/>
<text transform="translate(1804.1,1527.4) scale(0.7600,1)" font-size="39.47" letter-spacing="2.61" font-family='"Liberation Mono", monospace' font-weight="normal" fill="#111" stroke="#111" stroke-width="0.90" xml:space="preserve">SEE DETAIL  A</text>
<path d="M2070.0,1009.5 L2107.0,1009.5 L2193.5,1145.2" stroke="#000" stroke-width="3.0" fill="none" />
<polygon points="2193.5,1145.2 2176.1,1126.7 2184.1,1121.6" fill="#000"/>
<text transform="translate(1869.6,1023.2) scale(0.7600,1)" font-size="39.47" letter-spacing="3.12" font-family='"Liberation Mono", monospace' font-weight="normal" fill="#111" stroke="#111" stroke-width="0.90" xml:space="preserve">M3XP0.5-6g</text>
<path d="M2602.0,893.3 L2569.0,893.3 L2490.0,957.8" stroke="#000" stroke-width="3.0" fill="none" />
<polygon points="2490.0,957.8 2506.4,938.3 2512.4,945.7" fill="#000"/>
<text transform="translate(2603.0,907.0) scale(0.7600,1)" font-size="39.47" letter-spacing="2.62" font-family='"Liberation Mono", monospace' font-weight="normal" fill="#111" stroke="#111" stroke-width="0.90" xml:space="preserve">M20XP1.0-6g</text>
<line x1="2058.0" y1="1071.0" x2="2058.0" y2="1152.0" stroke="#000" stroke-width="3.1" />
<line x1="2058.0" y1="1212.0" x2="2058.0" y2="1301.0" stroke="#000" stroke-width="3.1" />
<polygon points="2058.0,1071.0 2062.8,1096.0 2053.2,1096.0" fill="#000"/>
<polygon points="2058.0,1101.5 2062.8,1126.5 2053.2,1126.5" fill="#000"/>
<polygon points="2058.0,1301.0 2053.2,1276.0 2062.8,1276.0" fill="#000"/>
<circle cx="2034.3" cy="1185.1" r="11.5" stroke="#000" stroke-width="2.6" fill="none" />
<line x1="2023.3" y1="1203.1" x2="2045.8" y2="1166.1" stroke="#000" stroke-width="2.6" />
<text transform="translate(2060.6,1197.6) scale(0.7600,1)" font-size="39.47" letter-spacing="-0.26" font-family='"Liberation Mono", monospace' font-weight="normal" fill="#111" stroke="#111" stroke-width="0.90" xml:space="preserve">10</text>
<line x1="2160.5" y1="1383.0" x2="2160.5" y2="1652.0" stroke="#000" stroke-width="3.1" />
<line x1="2254.5" y1="1493.5" x2="2254.5" y2="1580.0" stroke="#000" stroke-width="3.1" />
<line x1="2659.0" y1="1408.0" x2="2659.0" y2="1652.0" stroke="#000" stroke-width="3.1" />
<line x1="2160.5" y1="1567.9" x2="2271.0" y2="1567.9" stroke="#000" stroke-width="3.1" />
<polygon points="2160.5,1567.9 2185.5,1563.2 2185.5,1572.7" fill="#000"/>
<polygon points="2254.5,1567.9 2229.5,1572.7 2229.5,1563.2" fill="#000"/>
<text transform="translate(2283.3,1579.8) scale(0.7600,1)" font-size="39.47" letter-spacing="0.73" font-family='"Liberation Mono", monospace' font-weight="normal" fill="#111" stroke="#111" stroke-width="0.90" xml:space="preserve">3.1</text>
<line x1="2160.5" y1="1640.5" x2="2330.0" y2="1640.5" stroke="#000" stroke-width="3.1" />
<line x1="2433.0" y1="1640.5" x2="2659.0" y2="1640.5" stroke="#000" stroke-width="3.1" />
<polygon points="2160.5,1640.5 2185.5,1635.8 2185.5,1645.2" fill="#000"/>
<polygon points="2659.0,1640.5 2634.0,1645.2 2634.0,1635.8" fill="#000"/>
<text transform="translate(2342.6,1652.0) scale(0.7600,1)" font-size="39.47" letter-spacing="2.55" font-family='"Liberation Mono", monospace' font-weight="normal" fill="#111" stroke="#111" stroke-width="0.90" xml:space="preserve">20.7</text>
</g>
<g id="detailA" stroke-linejoin="round" stroke-linecap="round">
<defs><clipPath id="clipA"><path d="M1300.0,231.4 L1344.8,212.7 L1346.1,245.1 L1353.0,297.5 L1364.1,348.5 L1379.2,396.9 L1384.7,432.7 L1383.4,449.2 L1379.2,460.3 L1371.0,474.1 L1350.3,485.8 L1328.2,488.3 L1300.7,489.2 L1300.0,231.4 Z"/></clipPath></defs>
<g clip-path="url(#clipA)">
<line x1="1297.9" y1="253.4" x2="1318.6" y2="235.5" stroke="#000" stroke-width="3.8" />
<line x1="1300.7" y1="281.0" x2="1343.4" y2="245.1" stroke="#000" stroke-width="3.8" />
<line x1="1302.0" y1="312.7" x2="1332.4" y2="287.9" stroke="#000" stroke-width="3.8" />
<line x1="1302.0" y1="347.1" x2="1350.3" y2="303.0" stroke="#000" stroke-width="3.8" />
<line x1="1317.2" y1="367.8" x2="1335.1" y2="349.9" stroke="#000" stroke-width="3.8" />
<line x1="1344.8" y1="373.3" x2="1364.1" y2="355.4" stroke="#000" stroke-width="3.8" />
<line x1="1344.8" y1="370.7" x2="1372.3" y2="345.9" stroke="#000" stroke-width="3.8" />
<line x1="1362.7" y1="385.8" x2="1379.2" y2="372.1" stroke="#000" stroke-width="3.8" />
<line x1="1362.7" y1="418.9" x2="1383.4" y2="402.4" stroke="#000" stroke-width="3.8" />
<line x1="1362.7" y1="452.7" x2="1386.1" y2="434.1" stroke="#000" stroke-width="3.8" />
<line x1="1362.7" y1="474.1" x2="1377.8" y2="460.3" stroke="#000" stroke-width="3.8" />
</g>
<path d="M1275.2,416.2 L1275.2,224.5 L1276.9,222.1 L1295.1,216.2 L1308.9,212.1 L1350.3,211.0 L1354.4,211.8 L1386.1,223.8 L1416.4,260.3 L1425.4,294.8 L1430.9,314.1 L1434.4,355.4 L1435.1,377.6 L1433.7,432.7 L1427.5,460.3 L1405.4,508.5 L1354.4,536.1 L1300.7,543.7 L1300.0,454.8" stroke="#000" stroke-width="5.2" fill="none" />
<path d="M1295.1,217.6 L1295.1,279.6 L1299.5,281.7 L1300.0,374.0" stroke="#000" stroke-width="5.2" fill="none" />
<line x1="1295.1" y1="231.4" x2="1344.8" y2="231.4" stroke="#000" stroke-width="5.2" />
<path d="M1344.8,212.7 C1345.0,218.1 1344.8,231.0 1346.1,245.1 C1347.5,259.3 1350.0,280.3 1353.0,297.5 C1356.0,314.8 1359.7,332.0 1364.1,348.5 C1368.4,365.1 1375.8,382.8 1379.2,396.9 C1382.7,410.9 1384.0,424.0 1384.7,432.7 C1385.4,441.4 1384.3,444.7 1383.4,449.2 C1382.4,453.8 1381.3,456.1 1379.2,460.3 C1377.2,464.4 1375.8,469.8 1371.0,474.1 C1366.1,478.3 1357.4,483.4 1350.3,485.8 C1343.2,488.1 1336.5,487.7 1328.2,488.3 C1320.0,488.8 1305.2,489.1 1300.7,489.2 " stroke="#000" stroke-width="5.2" fill="none" />
<line x1="1383.4" y1="456.8" x2="1428.8" y2="456.8" stroke="#000" stroke-width="5.2" />
<path d="M1301.3,500.9 C1304.0,500.6 1311.3,500.0 1317.2,498.9 C1323.1,497.7 1331.0,495.9 1336.5,494.0 C1342.0,492.2 1348.0,488.9 1350.3,487.8 " stroke="#000" stroke-width="3.0" fill="none" />
<path d="M1295.1,292.0 L1295.1,329.2 L1280.0,355.4" stroke="#000" stroke-width="3.0" fill="none" />
<path d="M1277.2,356.9 L1268.3,370.7 L1268.3,384.5" stroke="#000" stroke-width="2.6" fill="none" />
<circle cx="1317.6" cy="413.0" r="43.7" fill="#fff"/>
<clipPath id="clipO"><circle cx="1317.6" cy="413.0" r="42.7"/></clipPath>
<g clip-path="url(#clipO)" stroke="#000" stroke-width="1.7" stroke-linecap="butt">
<line x1="1305.6" y1="376.9" x2="1365.0" y2="436.3"/>
<line x1="1307.8" y1="374.7" x2="1367.2" y2="434.1"/>
<line x1="1310.0" y1="372.5" x2="1369.4" y2="431.9"/>
<line x1="1312.3" y1="370.3" x2="1371.7" y2="429.7"/>
<line x1="1314.5" y1="368.0" x2="1373.9" y2="427.4"/>
<line x1="1316.7" y1="365.8" x2="1376.1" y2="425.2"/>
<line x1="1318.9" y1="363.6" x2="1378.3" y2="423.0"/>
<line x1="1321.2" y1="361.3" x2="1380.6" y2="420.7"/>
<line x1="1323.4" y1="359.1" x2="1382.8" y2="418.5"/>
<line x1="1288.3" y1="405.5" x2="1342.1" y2="459.2"/>
<line x1="1286.1" y1="407.7" x2="1339.8" y2="461.5"/>
<line x1="1283.9" y1="410.0" x2="1337.6" y2="463.7"/>
<line x1="1281.6" y1="412.2" x2="1335.4" y2="465.9"/>
<line x1="1279.4" y1="414.4" x2="1333.2" y2="468.2"/>
<line x1="1277.2" y1="416.6" x2="1330.9" y2="470.4"/>
<line x1="1275.0" y1="418.9" x2="1328.7" y2="472.6"/>
<line x1="1272.7" y1="421.1" x2="1326.5" y2="474.8"/>
<line x1="1270.5" y1="423.3" x2="1324.2" y2="477.1"/>
<line x1="1268.3" y1="425.6" x2="1322.0" y2="479.3"/>
</g>
<circle cx="1317.6" cy="413.0" r="43.7" stroke="#000" stroke-width="5.2" fill="none" />
<path d="M1300.0,395.5 L1300.0,456.8" stroke="#000" stroke-width="3.0" fill="none" />
<path d="M1343.4,372.7 L1361.3,375.2 L1362.0,478.2" stroke="#000" stroke-width="4.4" fill="none" />
<line x1="1268.3" y1="378.0" x2="1268.3" y2="607.0" stroke="#000" stroke-width="3.0" />
<line x1="1300.0" y1="559.5" x2="1300.0" y2="607.0" stroke="#000" stroke-width="3.0" />
<line x1="1229.7" y1="591.7" x2="1268.3" y2="591.7" stroke="#000" stroke-width="3.0" />
<line x1="1300.0" y1="591.7" x2="1359.4" y2="591.7" stroke="#000" stroke-width="3.0" />
<polygon points="1268.3,591.7 1245.3,596.2 1245.3,587.2" fill="#000"/>
<polygon points="1300.0,591.7 1323.0,587.2 1323.0,596.2" fill="#000"/>
</g>
<text transform="translate(1155.9,605.0) scale(0.7600,1)" font-size="39.47" letter-spacing="2.30" font-family='"Liberation Mono", monospace' font-weight="normal" fill="#111" stroke="#111" stroke-width="0.90" xml:space="preserve">0.1</text>
<text transform="translate(1281.1,680.0) scale(0.7600,1)" font-size="39.47" letter-spacing="3.83" font-family='"Liberation Mono", monospace' font-weight="normal" fill="#111" stroke="#111" stroke-width="0.90" xml:space="preserve">DETAIL  A</text>
<text transform="translate(1219.8,717.7) scale(0.7600,1)" font-size="39.47" letter-spacing="3.54" font-family='"Liberation Mono", monospace' font-weight="normal" fill="#111" stroke="#111" stroke-width="0.90" xml:space="preserve">SCALE  5.200</text>
<g id="iso" stroke-linejoin="round" stroke-linecap="round">
<path d="M2425.7,367.3 A43.2,87.1 0 0 0 2425.7,541.4" stroke="#000" stroke-width="5.6" fill="none" />
<path d="M2437.7,371.0 A32.5,84.4 0 0 0 2437.7,539.9" stroke="#000" stroke-width="5.6" fill="none" />
<path d="M2425.7,367.3 L2438.8,367.7 L2437.7,371.0" stroke="#000" stroke-width="5.6" fill="none" />
<path d="M2425.7,541.4 L2438.8,542.1 L2437.7,539.9" stroke="#000" stroke-width="5.6" fill="none" />
<path d="M2448.7,362.2 L2494.7,362.2 Q2464.0,411.6 2468.4,455.4 Q2469.5,510.3 2494.7,546.4 L2448.7,546.4 Q2415.8,521.2 2410.3,455.4 Q2413.6,389.6 2448.7,362.2 Z" stroke="#000" stroke-width="5.6" fill="#000" />
<path d="M2449.8,366.6 Q2422.4,411.6 2424.6,455.4 Q2425.7,510.3 2453.1,542.1" stroke="#3a3a3a" stroke-width="1.1" fill="none" />
<path d="M2459.6,366.6 Q2432.2,411.6 2434.4,455.4 Q2435.5,510.3 2462.9,542.1" stroke="#3a3a3a" stroke-width="1.1" fill="none" />
<path d="M2469.5,366.6 Q2442.1,411.6 2444.3,455.4 Q2445.4,510.3 2472.8,542.1" stroke="#3a3a3a" stroke-width="1.1" fill="none" />
<path d="M2479.4,366.6 Q2452.0,411.6 2454.2,455.4 Q2455.3,510.3 2482.7,542.1" stroke="#3a3a3a" stroke-width="1.1" fill="none" />
<path d="M2489.3,366.6 Q2461.8,411.6 2464.0,455.4 Q2465.1,510.3 2492.5,542.1" stroke="#3a3a3a" stroke-width="1.1" fill="none" />
<path d="M2493.6,362.2 L2532.0,362.2" stroke="#000" stroke-width="5.6" fill="none" />
<path d="M2493.6,546.4 L2532.0,546.4" stroke="#000" stroke-width="5.6" fill="none" />
<path d="M2591.2,307.4 L2557.2,306.8 L2548.5,312.9 L2505.7,448.9 L2508.3,484.4 L2562.3,600.6 L2586.8,599.1" stroke="#000" stroke-width="5.6" fill="#fff" />
<path d="M2591.2,308.1 L2578.1,315.1 L2532.0,451.1 L2533.1,485.0 L2586.8,599.1 L2605.5,593.6 L2646.5,460.3 L2645.4,419.3" stroke="#000" stroke-width="5.6" fill="#fff" />
<path d="M2591.2,308.1 L2578.1,315.1 L2532.0,451.1 L2533.1,485.0 L2586.8,599.1 L2605.5,593.6 L2646.5,460.3 L2645.4,419.3 Z" stroke="#000" stroke-width="5.6" fill="none" />
<path d="M2505.7,449.3 L2532.0,451.5" stroke="#000" stroke-width="5.6" fill="none" />
<path d="M2508.3,484.4 L2533.1,485.0" stroke="#000" stroke-width="5.6" fill="none" />
<ellipse cx="2582.9" cy="332.6" rx="6.6" ry="14.5" stroke="#000" stroke-width="5.0" fill="none" transform="rotate(8 2582.9 332.6)"/>
<ellipse cx="2637.3" cy="438.3" rx="6.1" ry="13.6" stroke="#000" stroke-width="5.0" fill="none" transform="rotate(8 2637.3 438.3)"/>
<ellipse cx="2541.9" cy="466.4" rx="6.1" ry="13.6" stroke="#000" stroke-width="5.0" fill="none" transform="rotate(8 2541.9 466.4)"/>
<ellipse cx="2595.2" cy="576.5" rx="6.6" ry="14.5" stroke="#000" stroke-width="5.0" fill="none" transform="rotate(8 2595.2 576.5)"/>
<ellipse cx="2589.5" cy="453.7" rx="32.9" ry="94.7" stroke="#000" stroke-width="5.6" fill="none" transform="rotate(3 2589.5 453.7)"/>
<ellipse cx="2590.5" cy="453.7" rx="29.8" ry="89.9" stroke="#000" stroke-width="2.0" fill="none" transform="rotate(3 2589.5 453.7)"/>
<ellipse cx="2590.1" cy="453.2" rx="21.9" ry="54.8" stroke="#000" stroke-width="6.6" fill="none" />
<ellipse cx="2589.1" cy="453.2" rx="15.4" ry="45.0" stroke="#000" stroke-width="5.6" fill="none" />
<ellipse cx="2587.1" cy="455.2" rx="9.9" ry="32.9" stroke="#000" stroke-width="7.6" fill="none" />
<ellipse cx="2583.1" cy="453.2" rx="3.5" ry="13.2" fill="#000"/>
<path d="M2566.0,408.3 Q2560.5,455.4 2571.5,501.5 Q2582.5,527.8 2600.0,512.5" stroke="#000" stroke-width="3.4" fill="none" />
<path d="M2569.3,411.6 Q2566.0,466.4 2580.3,508.1" stroke="#000" stroke-width="2.2" fill="none" />
</g>
<text transform="translate(2377.1,646.0) scale(0.7600,1)" font-size="39.47" letter-spacing="3.59" font-family='"Liberation Mono", monospace' font-weight="normal" fill="#111" stroke="#111" stroke-width="0.90" xml:space="preserve">SCALE  1.000</text>
<g id="rohs">
<circle cx="295.7" cy="237.5" r="113.0" stroke="#00953f" stroke-width="2.6" fill="none" />
<circle cx="295.7" cy="237.5" r="107.5" stroke="#00953f" stroke-width="1.6" fill="none" />
<clipPath id="clipR"><circle cx="295.7" cy="237.5" r="107"/></clipPath>
<g clip-path="url(#clipR)" fill="none" stroke="#00953f" stroke-width="1.5">
<circle cx="322" cy="252" r="113"/>
<path d="M221,155 Q228,190 247,208"/>
<path d="M327,282 Q350,298 381,301"/>
<path d="M360,158 Q392,220 371,300"/>
</g>
<path d="M359.6,156.6 Q326,160 300.8,170.4 Q272,182 250.6,200.5 Q234,218 226.8,240.6 Q222,258 224.3,275.7 Q225,296 229,313 Q234,316 241,315.5 Q266,311 288.2,303.3 Q310,294 325.8,280.7 Q342,264 350.9,240.6 Q358,220 360.9,195.5 Q361.5,176 359.6,156.6 Z" fill="#00953f"/>
<g fill="none" stroke="#fff" stroke-linecap="round">
<path d="M357,160 L236,314" stroke-width="3.6"/>
<path d="M312,216 Q304,200 306,178" stroke-width="2.6"/>
<path d="M312,216 Q322,224 340,220" stroke-width="2.6"/>
<path d="M283,252 Q276,232 282,204" stroke-width="2.6"/>
<path d="M283,252 Q300,260 320,255" stroke-width="2.6"/>
<path d="M258,284 Q250,266 252,242" stroke-width="2.6"/>
<path d="M258,284 Q278,284 300,278" stroke-width="2.6"/>
</g>
<text transform="translate(274,308) rotate(-39)" font-size="14" textLength="94" lengthAdjust="spacingAndGlyphs" font-family='"Liberation Sans", sans-serif' fill="#fff">Green Product</text>
<text x="174" y="356" font-size="69" font-family='"Liberation Sans", sans-serif' font-weight="bold" font-style="italic" fill="#00953f" textLength="222" lengthAdjust="spacingAndGlyphs" stroke="#00953f" stroke-width="3.4" stroke-linejoin="round">RoHS</text>
</g>
<g id="titleblock">
<line x1="1173.8" y1="1883.3" x2="2244.0" y2="1883.3" stroke="#000" stroke-width="4.1" />
<line x1="1173.8" y1="1883.3" x2="1173.8" y2="2334.0" stroke="#000" stroke-width="4.1" />
<line x1="1173.8" y1="2042.0" x2="1601.5" y2="2042.0" stroke="#000" stroke-width="4.1" />
<line x1="1173.8" y1="2144.8" x2="1601.5" y2="2144.8" stroke="#000" stroke-width="4.1" />
<line x1="1173.8" y1="2244.5" x2="2244.0" y2="2244.5" stroke="#000" stroke-width="4.1" />
<line x1="1416.4" y1="2042.0" x2="1416.4" y2="2334.0" stroke="#000" stroke-width="4.1" />
<line x1="1601.5" y1="1883.3" x2="1601.5" y2="2334.0" stroke="#000" stroke-width="4.1" />
<line x1="1846.0" y1="1883.3" x2="1846.0" y2="2334.0" stroke="#000" stroke-width="3.6" />
<line x1="2244.0" y1="1883.3" x2="2244.0" y2="2334.0" stroke="#000" stroke-width="4.1" />
<line x1="1601.5" y1="2083.2" x2="2244.0" y2="2083.2" stroke="#000" stroke-width="4.1" />
<line x1="1601.5" y1="2165.0" x2="2244.0" y2="2165.0" stroke="#000" stroke-width="3.6" />
<line x1="2244.0" y1="1885.0" x2="3401.0" y2="1885.0" stroke="#000" stroke-width="3.0" />
<line x1="2244.0" y1="2072.8" x2="3401.0" y2="2072.8" stroke="#000" stroke-width="4.1" />
<line x1="2244.0" y1="2165.2" x2="3401.0" y2="2165.2" stroke="#000" stroke-width="3.6" />
<line x1="2244.0" y1="2248.2" x2="3401.0" y2="2248.2" stroke="#000" stroke-width="4.1" />
<line x1="2375.4" y1="2165.2" x2="2375.4" y2="2248.2" stroke="#000" stroke-width="3.6" />
<line x1="3291.6" y1="2165.2" x2="3291.6" y2="2248.2" stroke="#000" stroke-width="3.6" />
<line x1="2591.0" y1="2248.2" x2="2591.0" y2="2334.0" stroke="#000" stroke-width="3.6" />
<line x1="3091.0" y1="2248.2" x2="3091.0" y2="2334.0" stroke="#000" stroke-width="3.6" />
<text x="1188.7" y="1923.5" font-size="32.0" font-family='"Liberation Sans", sans-serif' font-weight="normal" font-style="normal" text-anchor="start" fill="#111" textLength="94.0" lengthAdjust="spacingAndGlyphs"  stroke="#111" stroke-width="0.5">NOTE:</text>
<text x="1185.7" y="2101.6" font-size="31.0" font-family='"Liberation Sans", sans-serif' font-weight="normal" font-style="normal" text-anchor="start" fill="#111" textLength="115.6" lengthAdjust="spacingAndGlyphs"  stroke="#111" stroke-width="0.5">DRAWN</text>
<text x="1426.8" y="2110.5" font-size="38.0" font-family='"Liberation Sans", sans-serif' font-weight="normal" font-style="normal" text-anchor="start" fill="#111" textLength="157.0" lengthAdjust="spacingAndGlyphs"  stroke="#111" stroke-width="0.5">2017/8/7</text>
<text x="1191.0" y="2208.8" font-size="31.0" font-family='"Liberation Sans", sans-serif' font-weight="normal" font-style="normal" text-anchor="start" fill="#111" textLength="146.5" lengthAdjust="spacingAndGlyphs"  stroke="#111" stroke-width="0.5">CHECKED</text>
<text x="1192.0" y="2277.7" font-size="31.0" font-family='"Liberation Sans", sans-serif' font-weight="normal" font-style="normal" text-anchor="start" fill="#111" textLength="187.7" lengthAdjust="spacingAndGlyphs"  stroke="#111" stroke-width="0.5">APPROVALS</text>
<text x="1199.0" y="2322.0" font-size="50.0" font-family='"Liberation Serif", serif' font-weight="bold" font-style="italic" text-anchor="start" fill="#111" textLength="196.0" lengthAdjust="spacingAndGlyphs"  stroke="#111" stroke-width="0.5">John Kine</text>
<text x="1430.0" y="2310.0" font-size="38.0" font-family='"Liberation Sans", sans-serif' font-weight="normal" font-style="normal" text-anchor="start" fill="#111" textLength="156.6" lengthAdjust="spacingAndGlyphs"  stroke="#111" stroke-width="0.5">2017/8/7</text>
<text x="1628.7" y="2001.4" font-size="40.0" font-family='"Liberation Sans", sans-serif' font-weight="normal" font-style="normal" text-anchor="start" fill="#111" textLength="185.0" lengthAdjust="spacingAndGlyphs"  stroke="#111" stroke-width="0.5">Tolerance</text>
<text x="1629.7" y="2134.3" font-size="30.0" font-family='"Liberation Sans", sans-serif' font-weight="normal" font-style="normal" text-anchor="start" fill="#111" textLength="70.0" lengthAdjust="spacingAndGlyphs"  stroke="#111" stroke-width="0.5">View</text>
<text x="1631.2" y="2213.2" font-size="30.0" font-family='"Liberation Sans", sans-serif' font-weight="normal" font-style="normal" text-anchor="start" fill="#111" textLength="73.0" lengthAdjust="spacingAndGlyphs"  stroke="#111" stroke-width="0.5">UNIT</text>
<text x="1631.2" y="2300.5" font-size="30.0" font-family='"Liberation Sans", sans-serif' font-weight="normal" font-style="normal" text-anchor="start" fill="#111" textLength="100.0" lengthAdjust="spacingAndGlyphs"  stroke="#111" stroke-width="0.5">SCALE</text>
<text x="1893.2" y="1921.0" font-size="29.0" font-family='"Liberation Sans", sans-serif' font-weight="normal" font-style="normal" text-anchor="start" fill="#111" textLength="45.6" lengthAdjust="spacingAndGlyphs"  stroke="#111" stroke-width="0.5">0-6</text>
<text x="2033.0" y="1921.0" font-size="29.0" font-family='"Liberation Sans", sans-serif' font-weight="normal" font-style="normal" text-anchor="start" fill="#111" textLength="90.4" lengthAdjust="spacingAndGlyphs"  stroke="#111" stroke-width="0.5">± 0.10</text>
<text x="1889.2" y="1964.2" font-size="29.0" font-family='"Liberation Sans", sans-serif' font-weight="normal" font-style="normal" text-anchor="start" fill="#111" textLength="64.0" lengthAdjust="spacingAndGlyphs"  stroke="#111" stroke-width="0.5">6-30</text>
<text x="2033.0" y="1963.0" font-size="29.0" font-family='"Liberation Sans", sans-serif' font-weight="normal" font-style="normal" text-anchor="start" fill="#111" textLength="91.0" lengthAdjust="spacingAndGlyphs"  stroke="#111" stroke-width="0.5">± 0.20</text>
<text x="1890.2" y="2009.8" font-size="29.0" font-family='"Liberation Sans", sans-serif' font-weight="normal" font-style="normal" text-anchor="start" fill="#111" textLength="104.2" lengthAdjust="spacingAndGlyphs"  stroke="#111" stroke-width="0.5">30-120</text>
<text x="2033.0" y="2009.8" font-size="29.0" font-family='"Liberation Sans", sans-serif' font-weight="normal" font-style="normal" text-anchor="start" fill="#111" textLength="91.0" lengthAdjust="spacingAndGlyphs"  stroke="#111" stroke-width="0.5">± 0.30</text>
<text x="1890.7" y="2051.0" font-size="29.0" font-family='"Liberation Sans", sans-serif' font-weight="normal" font-style="normal" text-anchor="start" fill="#111" textLength="115.0" lengthAdjust="spacingAndGlyphs"  stroke="#111" stroke-width="0.5">Angular</text>
<text x="2038.0" y="2054.5" font-size="29.0" font-family='"Liberation Sans", sans-serif' font-weight="normal" font-style="normal" text-anchor="start" fill="#111" textLength="56.0" lengthAdjust="spacingAndGlyphs"  stroke="#111" stroke-width="0.5">± 2°</text>
<text x="1898.0" y="2225.6" font-size="29.5" font-family='"Liberation Sans", sans-serif' font-weight="normal" font-style="normal" text-anchor="start" fill="#111" textLength="55.7" lengthAdjust="spacingAndGlyphs"  stroke="#111" stroke-width="0.5">MM</text>
<text x="1898.0" y="2300.5" font-size="35.0" font-family='"Liberation Sans", sans-serif' font-weight="normal" font-style="normal" text-anchor="start" fill="#111" textLength="44.8" lengthAdjust="spacingAndGlyphs"  stroke="#111" stroke-width="0.5">1:1</text>
<circle cx="1929.9" cy="2121.4" r="30.8" stroke="#000" stroke-width="2.5" fill="none" />
<circle cx="1929.9" cy="2121.4" r="19.8" stroke="#000" stroke-width="2.5" fill="none" />
<line x1="1885.7" y1="2121.4" x2="1972.5" y2="2121.4" stroke="#000" stroke-width="2.0" />
<line x1="1929.9" y1="2084.0" x2="1929.9" y2="2160.0" stroke="#000" stroke-width="2.0" />
<path d="M2008.3,2103 L2110,2091.7 L2110,2151.2 L2008.3,2141.8 Z" stroke="#000" stroke-width="2.5" fill="none" />
<line x1="1985.0" y1="2121.4" x2="2146.2" y2="2121.4" stroke="#000" stroke-width="2.0" />
<text x="2262.4" y="2131.8" font-size="41.0" font-family='"Liberation Sans", sans-serif' font-weight="normal" font-style="normal" text-anchor="start" fill="#111" textLength="120.3" lengthAdjust="spacingAndGlyphs"  stroke="#111" stroke-width="0.5">Name:</text>
<text x="2398.8" y="2134.0" font-size="37.0" font-family='"Liberation Sans", sans-serif' font-weight="normal" font-style="normal" text-anchor="start" fill="#111" textLength="302.5" lengthAdjust="spacingAndGlyphs"  stroke="#111" stroke-width="0.5">4.3/10 Panel Jack</text>
<text x="2264.0" y="2202.5" font-size="31.0" font-family='"Liberation Sans", sans-serif' font-weight="normal" font-style="normal" text-anchor="start" fill="#111" textLength="68.0" lengthAdjust="spacingAndGlyphs"  stroke="#111" stroke-width="0.5">SIZE</text>
<text x="2340.3" y="2224.8" font-size="31.0" font-family='"Liberation Sans", sans-serif' font-weight="normal" font-style="normal" text-anchor="start" fill="#111"  stroke="#111" stroke-width="0.5">A</text>
<text x="2412.8" y="2222.0" font-size="41.0" font-family='"Liberation Sans", sans-serif' font-weight="normal" font-style="normal" text-anchor="start" fill="#111" textLength="220.5" lengthAdjust="spacingAndGlyphs"  stroke="#111" stroke-width="0.5">Product No.</text>
<text x="2659.5" y="2226.5" font-size="49.5" font-family='"Liberation Sans", sans-serif' font-weight="normal" font-style="normal" text-anchor="start" fill="#111" textLength="301.8" lengthAdjust="spacingAndGlyphs"  stroke="#111" stroke-width="0.5">EB-015-0013</text>
<text x="3305.5" y="2202.5" font-size="31.0" font-family='"Liberation Sans", sans-serif' font-weight="normal" font-style="normal" text-anchor="start" fill="#111" textLength="58.5" lengthAdjust="spacingAndGlyphs"  stroke="#111" stroke-width="0.5">REV</text>
<text x="3366.8" y="2230.4" font-size="31.0" font-family='"Liberation Sans", sans-serif' font-weight="normal" font-style="normal" text-anchor="start" fill="#111"  stroke="#111" stroke-width="0.5">B</text>
<text x="2264.0" y="2282.0" font-size="31.0" font-family='"Liberation Sans", sans-serif' font-weight="normal" font-style="normal" text-anchor="start" fill="#111" textLength="143.7" lengthAdjust="spacingAndGlyphs"  stroke="#111" stroke-width="0.5">DateTime</text>
<text x="2374.3" y="2319.5" font-size="37.0" font-family='"Liberation Sans", sans-serif' font-weight="normal" font-style="normal" text-anchor="start" fill="#111" textLength="200.0" lengthAdjust="spacingAndGlyphs"  stroke="#111" stroke-width="0.5">2017/08/07</text>
<text x="2616.0" y="2282.0" font-size="31.0" font-family='"Liberation Sans", sans-serif' font-weight="normal" font-style="normal" text-anchor="start" fill="#111" textLength="138.0" lengthAdjust="spacingAndGlyphs"  stroke="#111" stroke-width="0.5">CAD FILE</text>
<text x="2683.4" y="2316.7" font-size="31.0" font-family='"Liberation Sans", sans-serif' font-weight="normal" font-style="normal" text-anchor="start" fill="#111" textLength="377.0" lengthAdjust="spacingAndGlyphs"  stroke="#111" stroke-width="0.5">D/company drawings/BD</text>
<text x="3134.0" y="2302.8" font-size="33.0" font-family='"Liberation Sans", sans-serif' font-weight="normal" font-style="normal" text-anchor="start" fill="#111" textLength="229.0" lengthAdjust="spacingAndGlyphs" xml:space="preserve" stroke="#111" stroke-width="0.5">SHEET:  1 OF  1</text>
<g id="smallbee" transform="translate(1947.99,1764.91) scale(0.2370)">
<ellipse cx="1528" cy="778" rx="180" ry="82" fill="#e3e3e3" transform="rotate(14 1528 778)"/>
<ellipse cx="1560" cy="918" rx="118" ry="62" fill="#e3e3e3" transform="rotate(-12 1560 918)"/>
<ellipse cx="2094" cy="778" rx="180" ry="82" fill="#e3e3e3" transform="rotate(-14 2094 778)"/>
<ellipse cx="2066" cy="918" rx="118" ry="62" fill="#e3e3e3" transform="rotate(12 2066 918)"/>
<path d="M1400.0,740.0 L1500.0,740.0 L1540.0,778.0 L1640.0,778.0 L1690.0,810.0" stroke="#c4c4c4" stroke-width="2.2" fill="none" />
<path d="M1412.0,756.0 L1500.0,756.0 L1540.0,794.0 L1640.0,794.0 L1690.0,826.0" stroke="#c4c4c4" stroke-width="2.2" fill="none" />
<path d="M1424.0,772.0 L1500.0,772.0 L1540.0,810.0 L1640.0,810.0 L1690.0,842.0" stroke="#c4c4c4" stroke-width="2.2" fill="none" />
<path d="M1436.0,788.0 L1500.0,788.0 L1540.0,826.0 L1640.0,826.0 L1690.0,858.0" stroke="#c4c4c4" stroke-width="2.2" fill="none" />
<path d="M1448.0,804.0 L1500.0,804.0 L1540.0,842.0 L1640.0,842.0 L1690.0,874.0" stroke="#c4c4c4" stroke-width="2.2" fill="none" />
<circle cx="1384.0" cy="738" r="7" fill="none" stroke="#c4c4c4" stroke-width="3"/>
<path d="M2222.0,740.0 L2122.0,740.0 L2082.0,778.0 L1982.0,778.0 L1932.0,810.0" stroke="#c4c4c4" stroke-width="2.2" fill="none" />
<path d="M2210.0,756.0 L2122.0,756.0 L2082.0,794.0 L1982.0,794.0 L1932.0,826.0" stroke="#c4c4c4" stroke-width="2.2" fill="none" />
<path d="M2198.0,772.0 L2122.0,772.0 L2082.0,810.0 L1982.0,810.0 L1932.0,842.0" stroke="#c4c4c4" stroke-width="2.2" fill="none" />
<path d="M2186.0,788.0 L2122.0,788.0 L2082.0,826.0 L1982.0,826.0 L1932.0,858.0" stroke="#c4c4c4" stroke-width="2.2" fill="none" />
<path d="M2174.0,804.0 L2122.0,804.0 L2082.0,842.0 L1982.0,842.0 L1932.0,874.0" stroke="#c4c4c4" stroke-width="2.2" fill="none" />
<circle cx="2238.0" cy="738" r="7" fill="none" stroke="#c4c4c4" stroke-width="3"/>
<path d="M1701.9,553.3 C1706.5,558.1 1720.6,570.6 1729.5,581.9 C1738.5,593.2 1751.3,614.4 1755.7,621.0 " stroke="#3b3b3b" stroke-width="14.5" fill="none" stroke-linecap="round"/>
<path d="M1921.0,553.3 C1916.4,558.1 1902.7,570.6 1893.8,581.9 C1884.9,593.2 1872.0,614.4 1867.6,621.0 " stroke="#3b3b3b" stroke-width="14.5" fill="none" stroke-linecap="round"/>
<path d="M1770.0,619.0 C1777.5,617.3 1796.6,615.2 1810.5,615.2 C1824.4,615.2 1845.6,617.3 1853.3,619.0 C1861.1,620.8 1858.9,616.0 1857.1,625.7 C1855.4,635.4 1845.1,658.3 1842.9,677.1 C1840.6,696.0 1839.3,716.4 1843.8,739.0 C1848.3,761.7 1864.0,797.8 1870.0,812.9 C1876.0,827.9 1889.4,815.2 1879.5,829.5 C1869.6,843.8 1832.7,899.0 1810.5,898.6 C1788.3,898.2 1755.6,841.4 1746.2,827.1 C1736.8,812.9 1748.7,827.5 1754.3,812.9 C1759.8,798.2 1775.1,761.7 1779.5,739.0 C1784.0,716.4 1783.3,696.0 1781.0,677.1 C1778.7,658.3 1767.5,635.4 1765.7,625.7 C1763.9,616.0 1762.5,620.8 1770.0,619.0 Z" fill="#ffcc05"/>
<path d="M1751.0,631.9 C1745.2,631.1 1733.1,646.6 1725.7,658.1 C1718.3,669.6 1710.2,686.7 1706.7,701.0 C1703.1,715.2 1702.9,730.3 1704.3,743.8 C1705.7,757.3 1710.6,771.0 1715.2,781.9 C1719.8,792.8 1724.9,812.2 1731.9,809.0 C1738.9,805.9 1752.0,779.3 1757.1,762.9 C1762.3,746.4 1762.4,727.1 1762.9,710.5 C1763.3,693.8 1762.0,676.0 1760.0,662.9 C1758.0,649.8 1756.7,632.7 1751.0,631.9 Z" fill="#3b3b3b"/>
<path d="M1872.4,631.9 C1878.0,631.1 1890.2,646.6 1898.1,658.1 C1906.0,669.6 1915.9,686.7 1920.0,701.0 C1924.1,715.2 1924.3,730.3 1922.9,743.8 C1921.4,757.3 1916.3,770.4 1911.4,781.9 C1906.6,793.4 1901.1,816.0 1893.8,812.9 C1886.5,809.7 1872.9,779.9 1867.6,762.9 C1862.3,745.8 1862.5,727.1 1861.9,710.5 C1861.3,693.8 1862.5,676.0 1864.3,662.9 C1866.0,649.8 1866.7,632.7 1872.4,631.9 Z" fill="#3b3b3b"/>
<clipPath id="clipBee1"><path d="M1812.9,924.8 L1723.8,835.2 L1723.8,835.2 C1720.4,842.2 1710.3,860.6 1703.3,877.1 C1696.3,893.7 1686.7,917.2 1681.9,934.3 C1677.1,951.3 1674.7,964.0 1674.3,979.5 C1673.9,995.0 1675.9,1011.7 1679.5,1027.1 C1683.2,1042.6 1688.7,1057.7 1696.2,1072.4 C1703.7,1087.1 1714.4,1103.5 1724.8,1115.2 C1735.1,1127.0 1747.6,1136.1 1758.1,1142.9 C1768.6,1149.6 1782.7,1153.6 1787.6,1155.7 L1810.5,1255.7 L1835.2,1155.7 L1835.2,1155.7 C1840.6,1153.6 1856.7,1149.6 1867.6,1142.9 C1878.6,1136.1 1891.0,1127.0 1901.0,1115.2 C1910.9,1103.5 1920.0,1087.1 1927.1,1072.4 C1934.3,1057.7 1940.2,1042.6 1943.8,1027.1 C1947.5,1011.7 1949.5,995.0 1949.0,979.5 C1948.6,964.0 1945.4,951.3 1941.0,934.3 C1936.5,917.2 1928.9,893.7 1922.4,877.1 C1915.9,860.6 1905.3,842.2 1901.9,835.2 Z"/></clipPath>
<path d="M1812.9,924.8 L1723.8,835.2 L1723.8,835.2 C1720.4,842.2 1710.3,860.6 1703.3,877.1 C1696.3,893.7 1686.7,917.2 1681.9,934.3 C1677.1,951.3 1674.7,964.0 1674.3,979.5 C1673.9,995.0 1675.9,1011.7 1679.5,1027.1 C1683.2,1042.6 1688.7,1057.7 1696.2,1072.4 C1703.7,1087.1 1714.4,1103.5 1724.8,1115.2 C1735.1,1127.0 1747.6,1136.1 1758.1,1142.9 C1768.6,1149.6 1782.7,1153.6 1787.6,1155.7 L1810.5,1255.7 L1835.2,1155.7 L1835.2,1155.7 C1840.6,1153.6 1856.7,1149.6 1867.6,1142.9 C1878.6,1136.1 1891.0,1127.0 1901.0,1115.2 C1910.9,1103.5 1920.0,1087.1 1927.1,1072.4 C1934.3,1057.7 1940.2,1042.6 1943.8,1027.1 C1947.5,1011.7 1949.5,995.0 1949.0,979.5 C1948.6,964.0 1945.4,951.3 1941.0,934.3 C1936.5,917.2 1928.9,893.7 1922.4,877.1 C1915.9,860.6 1905.3,842.2 1901.9,835.2 Z" fill="#3b3b3b"/>
<g clip-path="url(#clipBee1)">
<path d="M1667.6,1018.1 Q1810.5,1044.8 1953.3,1018.1 L1953.3,1053.3 Q1810.5,1078.1 1667.6,1053.3 Z" fill="#ffcc05"/>
<path d="M1667.6,1083.3 Q1810.5,1110.0 1953.3,1083.3 L1953.3,1115.2 Q1810.5,1140.0 1667.6,1115.2 Z" fill="#ffcc05"/>
</g>
</g>
<defs><filter id="ds" x="-5%" y="-20%" width="110%" height="150%"><feGaussianBlur stdDeviation="1.2"/></filter></defs>
<text x="2529.0" y="1971.6" font-size="62.0" font-family='"Liberation Sans", sans-serif' font-weight="bold" font-style="normal" text-anchor="start" fill="#8a8a8a" textLength="702.0" lengthAdjust="spacingAndGlyphs" filter="url(#ds)" opacity="0.85">Buy From Original Factory</text>
<text x="2526.0" y="1968.6" font-size="62.0" font-family='"Liberation Sans", sans-serif' font-weight="bold" font-style="normal" text-anchor="start" fill="#fbc312" textLength="702.0" lengthAdjust="spacingAndGlyphs" stroke="#fbc312" stroke-width="1.2">Buy From Original Factory</text>
<text x="2528.7" y="2041.0" font-size="57.0" font-family='"Liberation Sans", sans-serif' font-weight="normal" font-style="normal" text-anchor="start" fill="#404040" textLength="472.0" lengthAdjust="spacingAndGlyphs" >www.elecbee.com</text>
</g>
</svg>
</body></html>
